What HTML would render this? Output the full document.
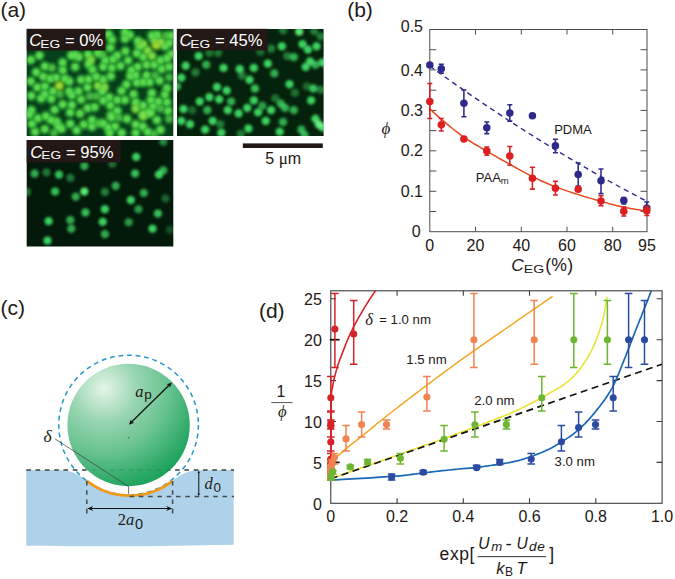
<!DOCTYPE html>
<html lang="en"><head><meta charset="utf-8"><title>Figure</title>
<style>html,body{margin:0;padding:0;background:#fff}body{width:675px;height:579px;overflow:hidden}svg{display:block}</style>
</head><body>
<svg width="675" height="579" viewBox="0 0 675 579">
<defs>
<clipPath id="c1"><rect x="26.7" y="29" width="146.6" height="107"/></clipPath>
<clipPath id="c2"><rect x="177" y="29" width="146.6" height="107"/></clipPath>
<clipPath id="c3"><rect x="26.7" y="140" width="146.6" height="106.6"/></clipPath>
<radialGradient id="sph" cx="0.30" cy="0.20" r="0.95" fx="0.30" fy="0.20"><stop offset="0" stop-color="#e4f5e7"/><stop offset="0.08" stop-color="#cfecd6"/><stop offset="0.3" stop-color="#96d4b0"/><stop offset="0.55" stop-color="#69c391"/><stop offset="0.8" stop-color="#2faa68"/><stop offset="1" stop-color="#059b4f"/></radialGradient>
<marker id="ah" viewBox="0 0 10 10" refX="9.2" refY="5" markerWidth="5.4" markerHeight="5.4" orient="auto-start-reverse" markerUnits="userSpaceOnUse"><path d="M0,1.4 L10,5 L0,8.6 L2.6,5 z" fill="#111"/></marker>
<radialGradient id="gc"><stop offset="0" stop-color="#9cf07a"/><stop offset="0.5" stop-color="#9cf07a" stop-opacity="0.7"/><stop offset="1" stop-color="#9cf07a" stop-opacity="0"/></radialGradient>
<radialGradient id="g0"><stop offset="0" stop-color="#44cc40"/><stop offset="0.3" stop-color="#44cc40" stop-opacity="0.95"/><stop offset="0.52" stop-color="#44cc40" stop-opacity="0.62"/><stop offset="0.76" stop-color="#44cc40" stop-opacity="0.2"/><stop offset="1" stop-color="#44cc40" stop-opacity="0"/></radialGradient><radialGradient id="gm"><stop offset="0" stop-color="#66d038"/><stop offset="0.3" stop-color="#66d038" stop-opacity="0.95"/><stop offset="0.52" stop-color="#66d038" stop-opacity="0.62"/><stop offset="0.76" stop-color="#66d038" stop-opacity="0.2"/><stop offset="1" stop-color="#66d038" stop-opacity="0"/></radialGradient><radialGradient id="gy"><stop offset="0" stop-color="#98cc22"/><stop offset="0.3" stop-color="#98cc22" stop-opacity="0.95"/><stop offset="0.52" stop-color="#98cc22" stop-opacity="0.62"/><stop offset="0.76" stop-color="#98cc22" stop-opacity="0.2"/><stop offset="1" stop-color="#98cc22" stop-opacity="0"/></radialGradient><radialGradient id="g1"><stop offset="0" stop-color="#38cc58"/><stop offset="0.3" stop-color="#38cc58" stop-opacity="0.95"/><stop offset="0.52" stop-color="#38cc58" stop-opacity="0.62"/><stop offset="0.76" stop-color="#38cc58" stop-opacity="0.2"/><stop offset="1" stop-color="#38cc58" stop-opacity="0"/></radialGradient><radialGradient id="g2"><stop offset="0" stop-color="#58e468"/><stop offset="0.3" stop-color="#58e468" stop-opacity="0.95"/><stop offset="0.52" stop-color="#58e468" stop-opacity="0.62"/><stop offset="0.76" stop-color="#58e468" stop-opacity="0.2"/><stop offset="1" stop-color="#58e468" stop-opacity="0"/></radialGradient>
</defs>
<rect width="675" height="579" fill="#fff"/>
<g clip-path="url(#c1)"><g style="isolation:isolate"><rect x="26" y="28" width="148" height="109" fill="#06401a"/>
<circle cx="102.7" cy="54.4" r="7.5" fill="url(#g0)" fill-opacity="0.70"/>
<circle cx="165.9" cy="35.5" r="7.5" fill="url(#g0)" fill-opacity="0.70"/>
<circle cx="110.8" cy="114.6" r="7.5" fill="url(#g0)" fill-opacity="0.70"/>
<circle cx="160.5" cy="108.7" r="7.5" fill="url(#g0)" fill-opacity="0.70"/>
<circle cx="169.2" cy="77.3" r="7.5" fill="url(#g0)" fill-opacity="0.70"/>
<circle cx="155.1" cy="75.2" r="7.5" fill="url(#g0)" fill-opacity="0.70"/>
<circle cx="60.0" cy="94.1" r="7.5" fill="url(#g0)" fill-opacity="0.70"/>
<circle cx="98.4" cy="123.3" r="7.5" fill="url(#g0)" fill-opacity="0.70"/>
<circle cx="54.0" cy="133.0" r="7.5" fill="url(#g0)" fill-opacity="0.70"/>
<circle cx="96.2" cy="96.2" r="7.5" fill="url(#g0)" fill-opacity="0.70"/>
<circle cx="89.7" cy="96.2" r="7.5" fill="url(#g0)" fill-opacity="0.70"/>
<circle cx="118.9" cy="117.9" r="7.5" fill="url(#g0)" fill-opacity="0.70"/>
<circle cx="169.2" cy="118.9" r="7.5" fill="url(#g0)" fill-opacity="0.70"/>
<circle cx="154.1" cy="134.1" r="7.5" fill="url(#g0)" fill-opacity="0.70"/>
<circle cx="51.9" cy="67.9" r="7.5" fill="url(#g0)" fill-opacity="0.80"/>
<circle cx="30.8" cy="59.8" r="7.5" fill="url(#g0)" fill-opacity="1.00"/>
<circle cx="39.4" cy="55.5" r="7.5" fill="url(#g0)" fill-opacity="1.00"/>
<circle cx="44.8" cy="66.3" r="7.5" fill="url(#g0)" fill-opacity="1.00"/>
<circle cx="36.2" cy="72.2" r="7.5" fill="url(#g0)" fill-opacity="1.00"/>
<circle cx="43.2" cy="76.6" r="7.5" fill="url(#g0)" fill-opacity="1.00"/>
<circle cx="30.8" cy="81.4" r="7.5" fill="url(#g0)" fill-opacity="1.00"/>
<circle cx="37.3" cy="87.4" r="7.5" fill="url(#g0)" fill-opacity="1.00"/>
<circle cx="44.8" cy="86.3" r="7.5" fill="url(#g0)" fill-opacity="1.00"/>
<circle cx="50.2" cy="78.7" r="7.5" fill="url(#g0)" fill-opacity="1.00"/>
<circle cx="56.2" cy="77.6" r="7.5" fill="url(#g0)" fill-opacity="1.00"/>
<circle cx="62.7" cy="62.5" r="7.5" fill="url(#g0)" fill-opacity="1.00"/>
<circle cx="62.7" cy="70.1" r="7.5" fill="url(#g0)" fill-opacity="1.00"/>
<circle cx="75.1" cy="66.8" r="7.5" fill="url(#g0)" fill-opacity="1.00"/>
<circle cx="75.1" cy="54.9" r="7.5" fill="url(#g0)" fill-opacity="1.00"/>
<circle cx="78.9" cy="57.1" r="7.5" fill="url(#g0)" fill-opacity="1.00"/>
<circle cx="88.1" cy="54.4" r="7.5" fill="url(#g0)" fill-opacity="1.00"/>
<circle cx="88.6" cy="64.1" r="7.5" fill="url(#g0)" fill-opacity="1.00"/>
<circle cx="92.4" cy="69.5" r="7.5" fill="url(#g0)" fill-opacity="1.00"/>
<circle cx="96.2" cy="76.6" r="7.5" fill="url(#g0)" fill-opacity="1.00"/>
<circle cx="81.1" cy="79.8" r="7.5" fill="url(#g0)" fill-opacity="1.00"/>
<circle cx="87.5" cy="87.4" r="7.5" fill="url(#g0)" fill-opacity="1.00"/>
<circle cx="88.6" cy="79.3" r="7.5" fill="url(#g0)" fill-opacity="1.00"/>
<circle cx="64.8" cy="78.7" r="7.5" fill="url(#g0)" fill-opacity="1.00"/>
<circle cx="69.2" cy="81.4" r="7.5" fill="url(#g0)" fill-opacity="1.00"/>
<circle cx="71.3" cy="55.5" r="7.5" fill="url(#g0)" fill-opacity="1.00"/>
<circle cx="97.8" cy="53.3" r="7.5" fill="url(#g0)" fill-opacity="1.00"/>
<circle cx="69.2" cy="91.2" r="7.5" fill="url(#g0)" fill-opacity="1.00"/>
<circle cx="78.4" cy="91.2" r="7.5" fill="url(#g0)" fill-opacity="1.00"/>
<circle cx="52.9" cy="91.2" r="7.5" fill="url(#g0)" fill-opacity="1.00"/>
<circle cx="108.6" cy="34.4" r="7.5" fill="url(#g0)" fill-opacity="1.00"/>
<circle cx="111.9" cy="39.8" r="7.5" fill="url(#g0)" fill-opacity="1.00"/>
<circle cx="110.3" cy="47.9" r="7.5" fill="url(#g0)" fill-opacity="1.00"/>
<circle cx="124.9" cy="32.2" r="7.5" fill="url(#g0)" fill-opacity="1.00"/>
<circle cx="129.7" cy="34.9" r="7.5" fill="url(#g0)" fill-opacity="1.00"/>
<circle cx="124.9" cy="38.7" r="7.5" fill="url(#g0)" fill-opacity="1.00"/>
<circle cx="125.4" cy="51.2" r="7.5" fill="url(#g0)" fill-opacity="1.00"/>
<circle cx="117.3" cy="55.5" r="7.5" fill="url(#g0)" fill-opacity="1.00"/>
<circle cx="113.0" cy="59.3" r="7.5" fill="url(#g0)" fill-opacity="1.00"/>
<circle cx="105.4" cy="60.4" r="7.5" fill="url(#g0)" fill-opacity="1.00"/>
<circle cx="137.8" cy="40.9" r="7.5" fill="url(#g0)" fill-opacity="1.00"/>
<circle cx="139.5" cy="46.3" r="7.5" fill="url(#g0)" fill-opacity="1.00"/>
<circle cx="136.8" cy="53.3" r="7.5" fill="url(#g0)" fill-opacity="1.00"/>
<circle cx="143.2" cy="57.1" r="7.5" fill="url(#g0)" fill-opacity="1.00"/>
<circle cx="154.1" cy="39.8" r="7.5" fill="url(#g0)" fill-opacity="1.00"/>
<circle cx="157.3" cy="34.9" r="7.5" fill="url(#g0)" fill-opacity="1.00"/>
<circle cx="151.9" cy="35.5" r="7.5" fill="url(#g0)" fill-opacity="1.00"/>
<circle cx="164.9" cy="46.3" r="7.5" fill="url(#g0)" fill-opacity="1.00"/>
<circle cx="169.2" cy="43.1" r="7.5" fill="url(#g0)" fill-opacity="1.00"/>
<circle cx="171.4" cy="35.5" r="7.5" fill="url(#g0)" fill-opacity="1.00"/>
<circle cx="160.5" cy="60.4" r="7.5" fill="url(#g0)" fill-opacity="1.00"/>
<circle cx="167.0" cy="58.2" r="7.5" fill="url(#g0)" fill-opacity="1.00"/>
<circle cx="171.4" cy="53.9" r="7.5" fill="url(#g0)" fill-opacity="1.00"/>
<circle cx="128.1" cy="60.4" r="7.5" fill="url(#g0)" fill-opacity="1.00"/>
<circle cx="120.5" cy="65.8" r="7.5" fill="url(#g0)" fill-opacity="1.00"/>
<circle cx="111.9" cy="67.9" r="7.5" fill="url(#g0)" fill-opacity="1.00"/>
<circle cx="137.8" cy="66.8" r="7.5" fill="url(#g0)" fill-opacity="1.00"/>
<circle cx="146.5" cy="64.7" r="7.5" fill="url(#g0)" fill-opacity="1.00"/>
<circle cx="154.1" cy="64.7" r="7.5" fill="url(#g0)" fill-opacity="1.00"/>
<circle cx="169.2" cy="66.8" r="7.5" fill="url(#g0)" fill-opacity="1.00"/>
<circle cx="103.2" cy="66.8" r="7.5" fill="url(#g0)" fill-opacity="1.00"/>
<circle cx="131.4" cy="70.1" r="7.5" fill="url(#g0)" fill-opacity="1.00"/>
<circle cx="161.6" cy="69.0" r="7.5" fill="url(#g0)" fill-opacity="1.00"/>
<circle cx="103.2" cy="79.5" r="7.5" fill="url(#g0)" fill-opacity="1.00"/>
<circle cx="110.8" cy="76.2" r="7.5" fill="url(#g0)" fill-opacity="1.00"/>
<circle cx="102.2" cy="91.4" r="7.5" fill="url(#g0)" fill-opacity="1.00"/>
<circle cx="109.2" cy="97.3" r="7.5" fill="url(#g0)" fill-opacity="1.00"/>
<circle cx="103.2" cy="100.6" r="7.5" fill="url(#g0)" fill-opacity="1.00"/>
<circle cx="110.3" cy="105.4" r="7.5" fill="url(#g0)" fill-opacity="1.00"/>
<circle cx="117.3" cy="100.0" r="7.5" fill="url(#g0)" fill-opacity="1.00"/>
<circle cx="124.9" cy="100.0" r="7.5" fill="url(#g0)" fill-opacity="1.00"/>
<circle cx="121.6" cy="90.8" r="7.5" fill="url(#g0)" fill-opacity="1.00"/>
<circle cx="126.5" cy="84.4" r="7.5" fill="url(#g0)" fill-opacity="1.00"/>
<circle cx="133.5" cy="94.1" r="7.5" fill="url(#g0)" fill-opacity="1.00"/>
<circle cx="117.3" cy="110.8" r="7.5" fill="url(#g0)" fill-opacity="1.00"/>
<circle cx="136.8" cy="82.7" r="7.5" fill="url(#g0)" fill-opacity="1.00"/>
<circle cx="143.2" cy="82.2" r="7.5" fill="url(#g0)" fill-opacity="1.00"/>
<circle cx="149.7" cy="82.2" r="7.5" fill="url(#g0)" fill-opacity="1.00"/>
<circle cx="130.3" cy="76.2" r="7.5" fill="url(#g0)" fill-opacity="1.00"/>
<circle cx="135.7" cy="75.2" r="7.5" fill="url(#g0)" fill-opacity="1.00"/>
<circle cx="159.5" cy="80.6" r="7.5" fill="url(#g0)" fill-opacity="1.00"/>
<circle cx="167.0" cy="88.1" r="7.5" fill="url(#g0)" fill-opacity="1.00"/>
<circle cx="164.9" cy="94.6" r="7.5" fill="url(#g0)" fill-opacity="1.00"/>
<circle cx="151.9" cy="93.0" r="7.5" fill="url(#g0)" fill-opacity="1.00"/>
<circle cx="150.8" cy="100.0" r="7.5" fill="url(#g0)" fill-opacity="1.00"/>
<circle cx="158.4" cy="101.6" r="7.5" fill="url(#g0)" fill-opacity="1.00"/>
<circle cx="167.0" cy="102.2" r="7.5" fill="url(#g0)" fill-opacity="1.00"/>
<circle cx="153.0" cy="106.5" r="7.5" fill="url(#g0)" fill-opacity="1.00"/>
<circle cx="143.2" cy="105.4" r="7.5" fill="url(#g0)" fill-opacity="1.00"/>
<circle cx="135.7" cy="102.2" r="7.5" fill="url(#g0)" fill-opacity="1.00"/>
<circle cx="143.2" cy="114.1" r="7.5" fill="url(#g0)" fill-opacity="1.00"/>
<circle cx="150.8" cy="113.0" r="7.5" fill="url(#g0)" fill-opacity="1.00"/>
<circle cx="168.1" cy="110.8" r="7.5" fill="url(#g0)" fill-opacity="1.00"/>
<circle cx="146.5" cy="75.2" r="7.5" fill="url(#g0)" fill-opacity="1.00"/>
<circle cx="31.3" cy="95.7" r="7.5" fill="url(#g0)" fill-opacity="1.00"/>
<circle cx="41.1" cy="98.4" r="7.5" fill="url(#g0)" fill-opacity="1.00"/>
<circle cx="44.8" cy="94.1" r="7.5" fill="url(#g0)" fill-opacity="1.00"/>
<circle cx="51.3" cy="98.9" r="7.5" fill="url(#g0)" fill-opacity="1.00"/>
<circle cx="71.9" cy="95.2" r="7.5" fill="url(#g0)" fill-opacity="1.00"/>
<circle cx="81.1" cy="99.5" r="7.5" fill="url(#g0)" fill-opacity="1.00"/>
<circle cx="62.7" cy="104.4" r="7.5" fill="url(#g0)" fill-opacity="1.00"/>
<circle cx="71.9" cy="104.9" r="7.5" fill="url(#g0)" fill-opacity="1.00"/>
<circle cx="54.6" cy="109.8" r="7.5" fill="url(#g0)" fill-opacity="1.00"/>
<circle cx="70.2" cy="112.5" r="7.5" fill="url(#g0)" fill-opacity="1.00"/>
<circle cx="80.0" cy="113.5" r="7.5" fill="url(#g0)" fill-opacity="1.00"/>
<circle cx="87.5" cy="108.1" r="7.5" fill="url(#g0)" fill-opacity="1.00"/>
<circle cx="94.6" cy="107.1" r="7.5" fill="url(#g0)" fill-opacity="1.00"/>
<circle cx="31.3" cy="110.3" r="7.5" fill="url(#g0)" fill-opacity="1.00"/>
<circle cx="29.2" cy="114.6" r="7.5" fill="url(#g0)" fill-opacity="1.00"/>
<circle cx="37.8" cy="118.4" r="7.5" fill="url(#g0)" fill-opacity="1.00"/>
<circle cx="45.9" cy="116.2" r="7.5" fill="url(#g0)" fill-opacity="1.00"/>
<circle cx="51.3" cy="120.0" r="7.5" fill="url(#g0)" fill-opacity="1.00"/>
<circle cx="56.7" cy="121.6" r="7.5" fill="url(#g0)" fill-opacity="1.00"/>
<circle cx="31.9" cy="123.8" r="7.5" fill="url(#g0)" fill-opacity="1.00"/>
<circle cx="44.8" cy="129.2" r="7.5" fill="url(#g0)" fill-opacity="1.00"/>
<circle cx="35.1" cy="131.9" r="7.5" fill="url(#g0)" fill-opacity="1.00"/>
<circle cx="58.4" cy="126.5" r="7.5" fill="url(#g0)" fill-opacity="1.00"/>
<circle cx="61.6" cy="128.7" r="7.5" fill="url(#g0)" fill-opacity="1.00"/>
<circle cx="70.2" cy="123.8" r="7.5" fill="url(#g0)" fill-opacity="1.00"/>
<circle cx="76.7" cy="130.3" r="7.5" fill="url(#g0)" fill-opacity="1.00"/>
<circle cx="83.8" cy="124.4" r="7.5" fill="url(#g0)" fill-opacity="1.00"/>
<circle cx="91.9" cy="120.0" r="7.5" fill="url(#g0)" fill-opacity="1.00"/>
<circle cx="91.9" cy="126.5" r="7.5" fill="url(#g0)" fill-opacity="1.00"/>
<circle cx="111.4" cy="117.3" r="7.5" fill="url(#g0)" fill-opacity="1.00"/>
<circle cx="127.0" cy="118.9" r="7.5" fill="url(#g0)" fill-opacity="1.00"/>
<circle cx="148.6" cy="112.5" r="7.5" fill="url(#g0)" fill-opacity="1.00"/>
<circle cx="156.8" cy="120.0" r="7.5" fill="url(#g0)" fill-opacity="1.00"/>
<circle cx="103.2" cy="123.3" r="7.5" fill="url(#g0)" fill-opacity="1.00"/>
<circle cx="108.1" cy="127.6" r="7.5" fill="url(#g0)" fill-opacity="1.00"/>
<circle cx="115.1" cy="126.5" r="7.5" fill="url(#g0)" fill-opacity="1.00"/>
<circle cx="121.6" cy="133.0" r="7.5" fill="url(#g0)" fill-opacity="1.00"/>
<circle cx="109.7" cy="133.0" r="7.5" fill="url(#g0)" fill-opacity="1.00"/>
<circle cx="135.7" cy="124.4" r="7.5" fill="url(#g0)" fill-opacity="1.00"/>
<circle cx="142.7" cy="126.5" r="7.5" fill="url(#g0)" fill-opacity="1.00"/>
<circle cx="135.7" cy="133.0" r="7.5" fill="url(#g0)" fill-opacity="1.00"/>
<circle cx="147.6" cy="131.9" r="7.5" fill="url(#g0)" fill-opacity="1.00"/>
<circle cx="160.5" cy="129.8" r="7.5" fill="url(#g0)" fill-opacity="1.00"/>
<circle cx="90.8" cy="59.8" r="7.5" fill="url(#gm)" fill-opacity="1.00"/>
<circle cx="97.8" cy="85.8" r="7.5" fill="url(#gm)" fill-opacity="1.00"/>
<circle cx="143.2" cy="44.1" r="7.5" fill="url(#gm)" fill-opacity="1.00"/>
<circle cx="147.6" cy="50.6" r="7.5" fill="url(#gm)" fill-opacity="1.00"/>
<circle cx="151.9" cy="56.0" r="7.5" fill="url(#gm)" fill-opacity="1.00"/>
<circle cx="160.5" cy="42.0" r="7.5" fill="url(#gm)" fill-opacity="1.00"/>
<circle cx="104.3" cy="87.1" r="7.5" fill="url(#gm)" fill-opacity="1.00"/>
<circle cx="135.7" cy="108.7" r="7.5" fill="url(#gm)" fill-opacity="1.00"/>
<circle cx="143.2" cy="116.2" r="7.5" fill="url(#gm)" fill-opacity="1.00"/>
<circle cx="156.2" cy="45.2" r="7.5" fill="url(#gy)" fill-opacity="1.00"/>
<circle cx="59.4" cy="85.8" r="7.5" fill="url(#gy)" fill-opacity="1.00"/>
<circle cx="102.7" cy="54.4" r="3.6" fill="url(#gc)" fill-opacity="0.21"/>
<circle cx="165.9" cy="35.5" r="3.6" fill="url(#gc)" fill-opacity="0.21"/>
<circle cx="110.8" cy="114.6" r="3.6" fill="url(#gc)" fill-opacity="0.21"/>
<circle cx="160.5" cy="108.7" r="3.6" fill="url(#gc)" fill-opacity="0.21"/>
<circle cx="169.2" cy="77.3" r="3.6" fill="url(#gc)" fill-opacity="0.21"/>
<circle cx="155.1" cy="75.2" r="3.6" fill="url(#gc)" fill-opacity="0.21"/>
<circle cx="60.0" cy="94.1" r="3.6" fill="url(#gc)" fill-opacity="0.21"/>
<circle cx="98.4" cy="123.3" r="3.6" fill="url(#gc)" fill-opacity="0.21"/>
<circle cx="54.0" cy="133.0" r="3.6" fill="url(#gc)" fill-opacity="0.21"/>
<circle cx="96.2" cy="96.2" r="3.6" fill="url(#gc)" fill-opacity="0.21"/>
<circle cx="89.7" cy="96.2" r="3.6" fill="url(#gc)" fill-opacity="0.21"/>
<circle cx="118.9" cy="117.9" r="3.6" fill="url(#gc)" fill-opacity="0.21"/>
<circle cx="169.2" cy="118.9" r="3.6" fill="url(#gc)" fill-opacity="0.21"/>
<circle cx="154.1" cy="134.1" r="3.6" fill="url(#gc)" fill-opacity="0.21"/>
<circle cx="51.9" cy="67.9" r="3.6" fill="url(#gc)" fill-opacity="0.24"/>
<circle cx="30.8" cy="59.8" r="3.6" fill="url(#gc)" fill-opacity="0.30"/>
<circle cx="39.4" cy="55.5" r="3.6" fill="url(#gc)" fill-opacity="0.30"/>
<circle cx="44.8" cy="66.3" r="3.6" fill="url(#gc)" fill-opacity="0.30"/>
<circle cx="36.2" cy="72.2" r="3.6" fill="url(#gc)" fill-opacity="0.30"/>
<circle cx="43.2" cy="76.6" r="3.6" fill="url(#gc)" fill-opacity="0.30"/>
<circle cx="30.8" cy="81.4" r="3.6" fill="url(#gc)" fill-opacity="0.30"/>
<circle cx="37.3" cy="87.4" r="3.6" fill="url(#gc)" fill-opacity="0.30"/>
<circle cx="44.8" cy="86.3" r="3.6" fill="url(#gc)" fill-opacity="0.30"/>
<circle cx="50.2" cy="78.7" r="3.6" fill="url(#gc)" fill-opacity="0.30"/>
<circle cx="56.2" cy="77.6" r="3.6" fill="url(#gc)" fill-opacity="0.30"/>
<circle cx="62.7" cy="62.5" r="3.6" fill="url(#gc)" fill-opacity="0.30"/>
<circle cx="62.7" cy="70.1" r="3.6" fill="url(#gc)" fill-opacity="0.30"/>
<circle cx="75.1" cy="66.8" r="3.6" fill="url(#gc)" fill-opacity="0.30"/>
<circle cx="75.1" cy="54.9" r="3.6" fill="url(#gc)" fill-opacity="0.30"/>
<circle cx="78.9" cy="57.1" r="3.6" fill="url(#gc)" fill-opacity="0.30"/>
<circle cx="88.1" cy="54.4" r="3.6" fill="url(#gc)" fill-opacity="0.30"/>
<circle cx="88.6" cy="64.1" r="3.6" fill="url(#gc)" fill-opacity="0.30"/>
<circle cx="92.4" cy="69.5" r="3.6" fill="url(#gc)" fill-opacity="0.30"/>
<circle cx="96.2" cy="76.6" r="3.6" fill="url(#gc)" fill-opacity="0.30"/>
<circle cx="81.1" cy="79.8" r="3.6" fill="url(#gc)" fill-opacity="0.30"/>
<circle cx="87.5" cy="87.4" r="3.6" fill="url(#gc)" fill-opacity="0.30"/>
<circle cx="88.6" cy="79.3" r="3.6" fill="url(#gc)" fill-opacity="0.30"/>
<circle cx="64.8" cy="78.7" r="3.6" fill="url(#gc)" fill-opacity="0.30"/>
<circle cx="69.2" cy="81.4" r="3.6" fill="url(#gc)" fill-opacity="0.30"/>
<circle cx="71.3" cy="55.5" r="3.6" fill="url(#gc)" fill-opacity="0.30"/>
<circle cx="97.8" cy="53.3" r="3.6" fill="url(#gc)" fill-opacity="0.30"/>
<circle cx="69.2" cy="91.2" r="3.6" fill="url(#gc)" fill-opacity="0.30"/>
<circle cx="78.4" cy="91.2" r="3.6" fill="url(#gc)" fill-opacity="0.30"/>
<circle cx="52.9" cy="91.2" r="3.6" fill="url(#gc)" fill-opacity="0.30"/>
<circle cx="108.6" cy="34.4" r="3.6" fill="url(#gc)" fill-opacity="0.30"/>
<circle cx="111.9" cy="39.8" r="3.6" fill="url(#gc)" fill-opacity="0.30"/>
<circle cx="110.3" cy="47.9" r="3.6" fill="url(#gc)" fill-opacity="0.30"/>
<circle cx="124.9" cy="32.2" r="3.6" fill="url(#gc)" fill-opacity="0.30"/>
<circle cx="129.7" cy="34.9" r="3.6" fill="url(#gc)" fill-opacity="0.30"/>
<circle cx="124.9" cy="38.7" r="3.6" fill="url(#gc)" fill-opacity="0.30"/>
<circle cx="125.4" cy="51.2" r="3.6" fill="url(#gc)" fill-opacity="0.30"/>
<circle cx="117.3" cy="55.5" r="3.6" fill="url(#gc)" fill-opacity="0.30"/>
<circle cx="113.0" cy="59.3" r="3.6" fill="url(#gc)" fill-opacity="0.30"/>
<circle cx="105.4" cy="60.4" r="3.6" fill="url(#gc)" fill-opacity="0.30"/>
<circle cx="137.8" cy="40.9" r="3.6" fill="url(#gc)" fill-opacity="0.30"/>
<circle cx="139.5" cy="46.3" r="3.6" fill="url(#gc)" fill-opacity="0.30"/>
<circle cx="136.8" cy="53.3" r="3.6" fill="url(#gc)" fill-opacity="0.30"/>
<circle cx="143.2" cy="57.1" r="3.6" fill="url(#gc)" fill-opacity="0.30"/>
<circle cx="154.1" cy="39.8" r="3.6" fill="url(#gc)" fill-opacity="0.30"/>
<circle cx="157.3" cy="34.9" r="3.6" fill="url(#gc)" fill-opacity="0.30"/>
<circle cx="151.9" cy="35.5" r="3.6" fill="url(#gc)" fill-opacity="0.30"/>
<circle cx="164.9" cy="46.3" r="3.6" fill="url(#gc)" fill-opacity="0.30"/>
<circle cx="169.2" cy="43.1" r="3.6" fill="url(#gc)" fill-opacity="0.30"/>
<circle cx="171.4" cy="35.5" r="3.6" fill="url(#gc)" fill-opacity="0.30"/>
<circle cx="160.5" cy="60.4" r="3.6" fill="url(#gc)" fill-opacity="0.30"/>
<circle cx="167.0" cy="58.2" r="3.6" fill="url(#gc)" fill-opacity="0.30"/>
<circle cx="171.4" cy="53.9" r="3.6" fill="url(#gc)" fill-opacity="0.30"/>
<circle cx="128.1" cy="60.4" r="3.6" fill="url(#gc)" fill-opacity="0.30"/>
<circle cx="120.5" cy="65.8" r="3.6" fill="url(#gc)" fill-opacity="0.30"/>
<circle cx="111.9" cy="67.9" r="3.6" fill="url(#gc)" fill-opacity="0.30"/>
<circle cx="137.8" cy="66.8" r="3.6" fill="url(#gc)" fill-opacity="0.30"/>
<circle cx="146.5" cy="64.7" r="3.6" fill="url(#gc)" fill-opacity="0.30"/>
<circle cx="154.1" cy="64.7" r="3.6" fill="url(#gc)" fill-opacity="0.30"/>
<circle cx="169.2" cy="66.8" r="3.6" fill="url(#gc)" fill-opacity="0.30"/>
<circle cx="103.2" cy="66.8" r="3.6" fill="url(#gc)" fill-opacity="0.30"/>
<circle cx="131.4" cy="70.1" r="3.6" fill="url(#gc)" fill-opacity="0.30"/>
<circle cx="161.6" cy="69.0" r="3.6" fill="url(#gc)" fill-opacity="0.30"/>
<circle cx="103.2" cy="79.5" r="3.6" fill="url(#gc)" fill-opacity="0.30"/>
<circle cx="110.8" cy="76.2" r="3.6" fill="url(#gc)" fill-opacity="0.30"/>
<circle cx="102.2" cy="91.4" r="3.6" fill="url(#gc)" fill-opacity="0.30"/>
<circle cx="109.2" cy="97.3" r="3.6" fill="url(#gc)" fill-opacity="0.30"/>
<circle cx="103.2" cy="100.6" r="3.6" fill="url(#gc)" fill-opacity="0.30"/>
<circle cx="110.3" cy="105.4" r="3.6" fill="url(#gc)" fill-opacity="0.30"/>
<circle cx="117.3" cy="100.0" r="3.6" fill="url(#gc)" fill-opacity="0.30"/>
<circle cx="124.9" cy="100.0" r="3.6" fill="url(#gc)" fill-opacity="0.30"/>
<circle cx="121.6" cy="90.8" r="3.6" fill="url(#gc)" fill-opacity="0.30"/>
<circle cx="126.5" cy="84.4" r="3.6" fill="url(#gc)" fill-opacity="0.30"/>
<circle cx="133.5" cy="94.1" r="3.6" fill="url(#gc)" fill-opacity="0.30"/>
<circle cx="117.3" cy="110.8" r="3.6" fill="url(#gc)" fill-opacity="0.30"/>
<circle cx="136.8" cy="82.7" r="3.6" fill="url(#gc)" fill-opacity="0.30"/>
<circle cx="143.2" cy="82.2" r="3.6" fill="url(#gc)" fill-opacity="0.30"/>
<circle cx="149.7" cy="82.2" r="3.6" fill="url(#gc)" fill-opacity="0.30"/>
<circle cx="130.3" cy="76.2" r="3.6" fill="url(#gc)" fill-opacity="0.30"/>
<circle cx="135.7" cy="75.2" r="3.6" fill="url(#gc)" fill-opacity="0.30"/>
<circle cx="159.5" cy="80.6" r="3.6" fill="url(#gc)" fill-opacity="0.30"/>
<circle cx="167.0" cy="88.1" r="3.6" fill="url(#gc)" fill-opacity="0.30"/>
<circle cx="164.9" cy="94.6" r="3.6" fill="url(#gc)" fill-opacity="0.30"/>
<circle cx="151.9" cy="93.0" r="3.6" fill="url(#gc)" fill-opacity="0.30"/>
<circle cx="150.8" cy="100.0" r="3.6" fill="url(#gc)" fill-opacity="0.30"/>
<circle cx="158.4" cy="101.6" r="3.6" fill="url(#gc)" fill-opacity="0.30"/>
<circle cx="167.0" cy="102.2" r="3.6" fill="url(#gc)" fill-opacity="0.30"/>
<circle cx="153.0" cy="106.5" r="3.6" fill="url(#gc)" fill-opacity="0.30"/>
<circle cx="143.2" cy="105.4" r="3.6" fill="url(#gc)" fill-opacity="0.30"/>
<circle cx="135.7" cy="102.2" r="3.6" fill="url(#gc)" fill-opacity="0.30"/>
<circle cx="143.2" cy="114.1" r="3.6" fill="url(#gc)" fill-opacity="0.30"/>
<circle cx="150.8" cy="113.0" r="3.6" fill="url(#gc)" fill-opacity="0.30"/>
<circle cx="168.1" cy="110.8" r="3.6" fill="url(#gc)" fill-opacity="0.30"/>
<circle cx="146.5" cy="75.2" r="3.6" fill="url(#gc)" fill-opacity="0.30"/>
<circle cx="31.3" cy="95.7" r="3.6" fill="url(#gc)" fill-opacity="0.30"/>
<circle cx="41.1" cy="98.4" r="3.6" fill="url(#gc)" fill-opacity="0.30"/>
<circle cx="44.8" cy="94.1" r="3.6" fill="url(#gc)" fill-opacity="0.30"/>
<circle cx="51.3" cy="98.9" r="3.6" fill="url(#gc)" fill-opacity="0.30"/>
<circle cx="71.9" cy="95.2" r="3.6" fill="url(#gc)" fill-opacity="0.30"/>
<circle cx="81.1" cy="99.5" r="3.6" fill="url(#gc)" fill-opacity="0.30"/>
<circle cx="62.7" cy="104.4" r="3.6" fill="url(#gc)" fill-opacity="0.30"/>
<circle cx="71.9" cy="104.9" r="3.6" fill="url(#gc)" fill-opacity="0.30"/>
<circle cx="54.6" cy="109.8" r="3.6" fill="url(#gc)" fill-opacity="0.30"/>
<circle cx="70.2" cy="112.5" r="3.6" fill="url(#gc)" fill-opacity="0.30"/>
<circle cx="80.0" cy="113.5" r="3.6" fill="url(#gc)" fill-opacity="0.30"/>
<circle cx="87.5" cy="108.1" r="3.6" fill="url(#gc)" fill-opacity="0.30"/>
<circle cx="94.6" cy="107.1" r="3.6" fill="url(#gc)" fill-opacity="0.30"/>
<circle cx="31.3" cy="110.3" r="3.6" fill="url(#gc)" fill-opacity="0.30"/>
<circle cx="29.2" cy="114.6" r="3.6" fill="url(#gc)" fill-opacity="0.30"/>
<circle cx="37.8" cy="118.4" r="3.6" fill="url(#gc)" fill-opacity="0.30"/>
<circle cx="45.9" cy="116.2" r="3.6" fill="url(#gc)" fill-opacity="0.30"/>
<circle cx="51.3" cy="120.0" r="3.6" fill="url(#gc)" fill-opacity="0.30"/>
<circle cx="56.7" cy="121.6" r="3.6" fill="url(#gc)" fill-opacity="0.30"/>
<circle cx="31.9" cy="123.8" r="3.6" fill="url(#gc)" fill-opacity="0.30"/>
<circle cx="44.8" cy="129.2" r="3.6" fill="url(#gc)" fill-opacity="0.30"/>
<circle cx="35.1" cy="131.9" r="3.6" fill="url(#gc)" fill-opacity="0.30"/>
<circle cx="58.4" cy="126.5" r="3.6" fill="url(#gc)" fill-opacity="0.30"/>
<circle cx="61.6" cy="128.7" r="3.6" fill="url(#gc)" fill-opacity="0.30"/>
<circle cx="70.2" cy="123.8" r="3.6" fill="url(#gc)" fill-opacity="0.30"/>
<circle cx="76.7" cy="130.3" r="3.6" fill="url(#gc)" fill-opacity="0.30"/>
<circle cx="83.8" cy="124.4" r="3.6" fill="url(#gc)" fill-opacity="0.30"/>
<circle cx="91.9" cy="120.0" r="3.6" fill="url(#gc)" fill-opacity="0.30"/>
<circle cx="91.9" cy="126.5" r="3.6" fill="url(#gc)" fill-opacity="0.30"/>
<circle cx="111.4" cy="117.3" r="3.6" fill="url(#gc)" fill-opacity="0.30"/>
<circle cx="127.0" cy="118.9" r="3.6" fill="url(#gc)" fill-opacity="0.30"/>
<circle cx="148.6" cy="112.5" r="3.6" fill="url(#gc)" fill-opacity="0.30"/>
<circle cx="156.8" cy="120.0" r="3.6" fill="url(#gc)" fill-opacity="0.30"/>
<circle cx="103.2" cy="123.3" r="3.6" fill="url(#gc)" fill-opacity="0.30"/>
<circle cx="108.1" cy="127.6" r="3.6" fill="url(#gc)" fill-opacity="0.30"/>
<circle cx="115.1" cy="126.5" r="3.6" fill="url(#gc)" fill-opacity="0.30"/>
<circle cx="121.6" cy="133.0" r="3.6" fill="url(#gc)" fill-opacity="0.30"/>
<circle cx="109.7" cy="133.0" r="3.6" fill="url(#gc)" fill-opacity="0.30"/>
<circle cx="135.7" cy="124.4" r="3.6" fill="url(#gc)" fill-opacity="0.30"/>
<circle cx="142.7" cy="126.5" r="3.6" fill="url(#gc)" fill-opacity="0.30"/>
<circle cx="135.7" cy="133.0" r="3.6" fill="url(#gc)" fill-opacity="0.30"/>
<circle cx="147.6" cy="131.9" r="3.6" fill="url(#gc)" fill-opacity="0.30"/>
<circle cx="160.5" cy="129.8" r="3.6" fill="url(#gc)" fill-opacity="0.30"/>
<circle cx="90.8" cy="59.8" r="3.6" fill="url(#gc)" fill-opacity="0.30"/>
<circle cx="97.8" cy="85.8" r="3.6" fill="url(#gc)" fill-opacity="0.30"/>
<circle cx="143.2" cy="44.1" r="3.6" fill="url(#gc)" fill-opacity="0.30"/>
<circle cx="147.6" cy="50.6" r="3.6" fill="url(#gc)" fill-opacity="0.30"/>
<circle cx="151.9" cy="56.0" r="3.6" fill="url(#gc)" fill-opacity="0.30"/>
<circle cx="160.5" cy="42.0" r="3.6" fill="url(#gc)" fill-opacity="0.30"/>
<circle cx="104.3" cy="87.1" r="3.6" fill="url(#gc)" fill-opacity="0.30"/>
<circle cx="135.7" cy="108.7" r="3.6" fill="url(#gc)" fill-opacity="0.30"/>
<circle cx="143.2" cy="116.2" r="3.6" fill="url(#gc)" fill-opacity="0.30"/>
<circle cx="156.2" cy="45.2" r="3.6" fill="url(#gc)" fill-opacity="0.30"/>
<circle cx="59.4" cy="85.8" r="3.6" fill="url(#gc)" fill-opacity="0.30"/>
</g></g>
<g clip-path="url(#c2)"><g style="isolation:isolate"><rect x="176" y="28" width="149" height="109" fill="#05230c"/>
<circle cx="299.2" cy="31.6" r="6.6" fill="url(#g2)" fill-opacity="1.00" style="mix-blend-mode:screen"/>
<circle cx="283.0" cy="30.1" r="6.6" fill="url(#g1)" fill-opacity="0.50" style="mix-blend-mode:screen"/>
<circle cx="314.3" cy="31.2" r="6.6" fill="url(#g1)" fill-opacity="0.50" style="mix-blend-mode:screen"/>
<circle cx="320.8" cy="36.6" r="6.6" fill="url(#g1)" fill-opacity="0.50" style="mix-blend-mode:screen"/>
<circle cx="281.9" cy="46.3" r="6.6" fill="url(#g1)" fill-opacity="1.00" style="mix-blend-mode:screen"/>
<circle cx="271.1" cy="48.5" r="6.6" fill="url(#g1)" fill-opacity="0.50" style="mix-blend-mode:screen"/>
<circle cx="302.5" cy="44.1" r="6.6" fill="url(#g1)" fill-opacity="1.00" style="mix-blend-mode:screen"/>
<circle cx="307.9" cy="49.5" r="6.6" fill="url(#g1)" fill-opacity="1.00" style="mix-blend-mode:screen"/>
<circle cx="316.5" cy="46.3" r="6.6" fill="url(#g1)" fill-opacity="1.00" style="mix-blend-mode:screen"/>
<circle cx="287.3" cy="56.0" r="6.6" fill="url(#g1)" fill-opacity="0.50" style="mix-blend-mode:screen"/>
<circle cx="293.8" cy="57.1" r="6.6" fill="url(#g1)" fill-opacity="0.80" style="mix-blend-mode:screen"/>
<circle cx="198.6" cy="56.0" r="6.6" fill="url(#g1)" fill-opacity="1.00" style="mix-blend-mode:screen"/>
<circle cx="209.4" cy="52.8" r="6.6" fill="url(#g1)" fill-opacity="0.45" style="mix-blend-mode:screen"/>
<circle cx="218.1" cy="52.8" r="6.6" fill="url(#g1)" fill-opacity="0.45" style="mix-blend-mode:screen"/>
<circle cx="260.3" cy="51.7" r="6.6" fill="url(#g1)" fill-opacity="0.40" style="mix-blend-mode:screen"/>
<circle cx="185.7" cy="65.8" r="6.6" fill="url(#g1)" fill-opacity="1.00" style="mix-blend-mode:screen"/>
<circle cx="206.2" cy="64.7" r="6.6" fill="url(#g1)" fill-opacity="0.80" style="mix-blend-mode:screen"/>
<circle cx="223.5" cy="67.9" r="6.6" fill="url(#g1)" fill-opacity="1.00" style="mix-blend-mode:screen"/>
<circle cx="239.7" cy="69.0" r="6.6" fill="url(#g1)" fill-opacity="1.00" style="mix-blend-mode:screen"/>
<circle cx="253.8" cy="67.9" r="6.6" fill="url(#g1)" fill-opacity="1.00" style="mix-blend-mode:screen"/>
<circle cx="267.8" cy="63.6" r="6.6" fill="url(#g1)" fill-opacity="1.00" style="mix-blend-mode:screen"/>
<circle cx="274.3" cy="73.3" r="6.6" fill="url(#g1)" fill-opacity="0.80" style="mix-blend-mode:screen"/>
<circle cx="305.7" cy="66.9" r="6.6" fill="url(#g1)" fill-opacity="1.00" style="mix-blend-mode:screen"/>
<circle cx="310.0" cy="61.4" r="6.6" fill="url(#g1)" fill-opacity="1.00" style="mix-blend-mode:screen"/>
<circle cx="315.4" cy="64.7" r="6.6" fill="url(#g1)" fill-opacity="0.80" style="mix-blend-mode:screen"/>
<circle cx="322.4" cy="62.5" r="6.6" fill="url(#g1)" fill-opacity="1.00" style="mix-blend-mode:screen"/>
<circle cx="181.3" cy="77.7" r="6.6" fill="url(#g1)" fill-opacity="1.00" style="mix-blend-mode:screen"/>
<circle cx="195.4" cy="72.3" r="6.6" fill="url(#g1)" fill-opacity="0.50" style="mix-blend-mode:screen"/>
<circle cx="241.9" cy="75.5" r="6.6" fill="url(#g1)" fill-opacity="0.50" style="mix-blend-mode:screen"/>
<circle cx="249.5" cy="79.8" r="6.6" fill="url(#g1)" fill-opacity="1.00" style="mix-blend-mode:screen"/>
<circle cx="289.5" cy="84.2" r="6.6" fill="url(#g1)" fill-opacity="1.00" style="mix-blend-mode:screen"/>
<circle cx="313.3" cy="88.5" r="6.6" fill="url(#g1)" fill-opacity="0.90" style="mix-blend-mode:screen"/>
<circle cx="306.8" cy="86.3" r="6.6" fill="url(#g1)" fill-opacity="0.40" style="mix-blend-mode:screen"/>
<circle cx="320.8" cy="89.6" r="6.6" fill="url(#g1)" fill-opacity="0.50" style="mix-blend-mode:screen"/>
<circle cx="177.0" cy="86.3" r="6.6" fill="url(#g1)" fill-opacity="0.80" style="mix-blend-mode:screen"/>
<circle cx="217.0" cy="87.0" r="6.6" fill="url(#g1)" fill-opacity="1.00" style="mix-blend-mode:screen"/>
<circle cx="226.7" cy="90.6" r="6.6" fill="url(#g1)" fill-opacity="1.00" style="mix-blend-mode:screen"/>
<circle cx="254.9" cy="88.5" r="6.6" fill="url(#g1)" fill-opacity="0.90" style="mix-blend-mode:screen"/>
<circle cx="294.9" cy="92.8" r="6.6" fill="url(#g1)" fill-opacity="0.45" style="mix-blend-mode:screen"/>
<circle cx="199.7" cy="101.5" r="6.6" fill="url(#g1)" fill-opacity="1.00" style="mix-blend-mode:screen"/>
<circle cx="209.4" cy="97.1" r="6.6" fill="url(#g1)" fill-opacity="1.00" style="mix-blend-mode:screen"/>
<circle cx="219.2" cy="99.3" r="6.6" fill="url(#g1)" fill-opacity="1.00" style="mix-blend-mode:screen"/>
<circle cx="231.1" cy="101.5" r="6.6" fill="url(#g1)" fill-opacity="0.80" style="mix-blend-mode:screen"/>
<circle cx="253.8" cy="100.4" r="6.6" fill="url(#g1)" fill-opacity="1.00" style="mix-blend-mode:screen"/>
<circle cx="275.4" cy="98.2" r="6.6" fill="url(#g1)" fill-opacity="0.45" style="mix-blend-mode:screen"/>
<circle cx="311.1" cy="100.4" r="6.6" fill="url(#g1)" fill-opacity="1.00" style="mix-blend-mode:screen"/>
<circle cx="183.5" cy="109.0" r="6.6" fill="url(#g1)" fill-opacity="1.00" style="mix-blend-mode:screen"/>
<circle cx="207.3" cy="110.1" r="6.6" fill="url(#g1)" fill-opacity="0.80" style="mix-blend-mode:screen"/>
<circle cx="227.8" cy="110.1" r="6.6" fill="url(#g1)" fill-opacity="1.00" style="mix-blend-mode:screen"/>
<circle cx="238.6" cy="113.4" r="6.6" fill="url(#g1)" fill-opacity="1.00" style="mix-blend-mode:screen"/>
<circle cx="247.3" cy="107.9" r="6.6" fill="url(#g1)" fill-opacity="1.00" style="mix-blend-mode:screen"/>
<circle cx="258.1" cy="112.3" r="6.6" fill="url(#g1)" fill-opacity="1.00" style="mix-blend-mode:screen"/>
<circle cx="262.4" cy="105.8" r="6.6" fill="url(#g1)" fill-opacity="0.70" style="mix-blend-mode:screen"/>
<circle cx="271.1" cy="110.1" r="6.6" fill="url(#g1)" fill-opacity="1.00" style="mix-blend-mode:screen"/>
<circle cx="280.8" cy="103.6" r="6.6" fill="url(#g1)" fill-opacity="0.80" style="mix-blend-mode:screen"/>
<circle cx="285.1" cy="107.9" r="6.6" fill="url(#g1)" fill-opacity="0.80" style="mix-blend-mode:screen"/>
<circle cx="293.8" cy="110.1" r="6.6" fill="url(#g1)" fill-opacity="0.80" style="mix-blend-mode:screen"/>
<circle cx="192.1" cy="110.1" r="6.6" fill="url(#g1)" fill-opacity="0.40" style="mix-blend-mode:screen"/>
<circle cx="181.3" cy="120.9" r="6.6" fill="url(#g1)" fill-opacity="1.00" style="mix-blend-mode:screen"/>
<circle cx="190.0" cy="124.2" r="6.6" fill="url(#g1)" fill-opacity="1.00" style="mix-blend-mode:screen"/>
<circle cx="212.7" cy="120.9" r="6.6" fill="url(#g1)" fill-opacity="1.00" style="mix-blend-mode:screen"/>
<circle cx="220.3" cy="124.2" r="6.6" fill="url(#g1)" fill-opacity="0.50" style="mix-blend-mode:screen"/>
<circle cx="265.7" cy="120.9" r="6.6" fill="url(#g1)" fill-opacity="1.00" style="mix-blend-mode:screen"/>
<circle cx="283.0" cy="122.0" r="6.6" fill="url(#g1)" fill-opacity="0.80" style="mix-blend-mode:screen"/>
<circle cx="315.4" cy="118.8" r="6.6" fill="url(#g1)" fill-opacity="1.00" style="mix-blend-mode:screen"/>
<circle cx="318.7" cy="124.2" r="6.6" fill="url(#g2)" fill-opacity="1.00" style="mix-blend-mode:screen"/>
<circle cx="322.4" cy="127.4" r="6.6" fill="url(#g1)" fill-opacity="1.00" style="mix-blend-mode:screen"/>
<circle cx="205.1" cy="129.6" r="6.6" fill="url(#g1)" fill-opacity="1.00" style="mix-blend-mode:screen"/>
<circle cx="221.3" cy="132.8" r="6.6" fill="url(#g1)" fill-opacity="1.00" style="mix-blend-mode:screen"/>
<circle cx="248.4" cy="128.5" r="6.6" fill="url(#g1)" fill-opacity="1.00" style="mix-blend-mode:screen"/>
<circle cx="240.8" cy="133.9" r="6.6" fill="url(#g1)" fill-opacity="0.50" style="mix-blend-mode:screen"/>
<circle cx="279.7" cy="131.7" r="6.6" fill="url(#g1)" fill-opacity="1.00" style="mix-blend-mode:screen"/>
<circle cx="301.4" cy="129.6" r="6.6" fill="url(#g1)" fill-opacity="0.80" style="mix-blend-mode:screen"/>
<circle cx="304.6" cy="135.0" r="6.6" fill="url(#g1)" fill-opacity="0.80" style="mix-blend-mode:screen"/>
</g></g>
<g clip-path="url(#c3)"><g style="isolation:isolate"><rect x="26" y="139" width="148" height="109" fill="#03190a"/>
<circle cx="163.3" cy="141.7" r="6.6" fill="url(#g1)" fill-opacity="0.60" style="mix-blend-mode:screen"/>
<circle cx="136.2" cy="156.9" r="6.6" fill="url(#g1)" fill-opacity="1.00" style="mix-blend-mode:screen"/>
<circle cx="84.3" cy="166.0" r="6.6" fill="url(#g1)" fill-opacity="0.80" style="mix-blend-mode:screen"/>
<circle cx="112.4" cy="163.8" r="6.6" fill="url(#g1)" fill-opacity="0.45" style="mix-blend-mode:screen"/>
<circle cx="34.6" cy="173.5" r="6.6" fill="url(#g1)" fill-opacity="0.80" style="mix-blend-mode:screen"/>
<circle cx="46.5" cy="172.4" r="6.6" fill="url(#g1)" fill-opacity="0.50" style="mix-blend-mode:screen"/>
<circle cx="59.0" cy="174.6" r="6.6" fill="url(#g1)" fill-opacity="0.90" style="mix-blend-mode:screen"/>
<circle cx="70.3" cy="177.9" r="6.6" fill="url(#g1)" fill-opacity="0.50" style="mix-blend-mode:screen"/>
<circle cx="135.1" cy="173.5" r="6.6" fill="url(#g1)" fill-opacity="0.90" style="mix-blend-mode:screen"/>
<circle cx="158.9" cy="174.6" r="6.6" fill="url(#g1)" fill-opacity="1.00" style="mix-blend-mode:screen"/>
<circle cx="163.3" cy="170.3" r="6.6" fill="url(#g1)" fill-opacity="0.80" style="mix-blend-mode:screen"/>
<circle cx="55.1" cy="191.5" r="6.6" fill="url(#g1)" fill-opacity="0.90" style="mix-blend-mode:screen"/>
<circle cx="84.3" cy="191.5" r="6.6" fill="url(#g2)" fill-opacity="1.00" style="mix-blend-mode:screen"/>
<circle cx="75.7" cy="196.7" r="6.6" fill="url(#g1)" fill-opacity="0.80" style="mix-blend-mode:screen"/>
<circle cx="104.9" cy="191.9" r="6.6" fill="url(#g1)" fill-opacity="0.55" style="mix-blend-mode:screen"/>
<circle cx="115.7" cy="185.9" r="6.6" fill="url(#g1)" fill-opacity="0.80" style="mix-blend-mode:screen"/>
<circle cx="143.8" cy="193.0" r="6.6" fill="url(#g1)" fill-opacity="0.80" style="mix-blend-mode:screen"/>
<circle cx="165.4" cy="198.4" r="6.6" fill="url(#g1)" fill-opacity="0.40" style="mix-blend-mode:screen"/>
<circle cx="27.0" cy="191.9" r="6.6" fill="url(#g1)" fill-opacity="0.50" style="mix-blend-mode:screen"/>
<circle cx="130.8" cy="200.1" r="6.6" fill="url(#g1)" fill-opacity="1.00" style="mix-blend-mode:screen"/>
<circle cx="138.4" cy="209.2" r="6.6" fill="url(#g1)" fill-opacity="0.70" style="mix-blend-mode:screen"/>
<circle cx="104.9" cy="209.2" r="6.6" fill="url(#g1)" fill-opacity="1.00" style="mix-blend-mode:screen"/>
<circle cx="85.4" cy="212.5" r="6.6" fill="url(#g1)" fill-opacity="0.90" style="mix-blend-mode:screen"/>
<circle cx="157.9" cy="213.5" r="6.6" fill="url(#g1)" fill-opacity="0.90" style="mix-blend-mode:screen"/>
<circle cx="48.6" cy="221.1" r="6.6" fill="url(#g1)" fill-opacity="1.00" style="mix-blend-mode:screen"/>
<circle cx="70.3" cy="220.0" r="6.6" fill="url(#g1)" fill-opacity="0.80" style="mix-blend-mode:screen"/>
<circle cx="102.7" cy="221.8" r="6.6" fill="url(#g1)" fill-opacity="1.00" style="mix-blend-mode:screen"/>
<circle cx="128.7" cy="222.2" r="6.6" fill="url(#g1)" fill-opacity="0.70" style="mix-blend-mode:screen"/>
<circle cx="152.5" cy="228.7" r="6.6" fill="url(#g1)" fill-opacity="1.00" style="mix-blend-mode:screen"/>
<circle cx="71.3" cy="228.7" r="6.6" fill="url(#g1)" fill-opacity="0.80" style="mix-blend-mode:screen"/>
<circle cx="104.9" cy="234.1" r="6.6" fill="url(#g1)" fill-opacity="0.80" style="mix-blend-mode:screen"/>
<circle cx="47.5" cy="240.6" r="6.6" fill="url(#g1)" fill-opacity="1.00" style="mix-blend-mode:screen"/>
<circle cx="169.8" cy="229.8" r="6.6" fill="url(#g1)" fill-opacity="0.30" style="mix-blend-mode:screen"/>
</g></g>
<rect x="26.7" y="28.8" width="78.6" height="21.6" fill="#231815"/>
<text x="29.3" y="45.9" font-family="Liberation Sans, Arial, sans-serif" font-size="16.8" font-style="italic" fill="#fff">C</text>
<text transform="translate(40.2,47.5) scale(1.3,1)" font-family="Liberation Sans, Arial, sans-serif" font-size="10.6" fill="#fff">EG</text>
<text x="64.9" y="45.9" font-family="Liberation Sans, Arial, sans-serif" font-size="16.6" fill="#fff">= 0%</text>
<rect x="176.8" y="28.8" width="90.8" height="21.6" fill="#231815"/>
<text x="179.4" y="45.9" font-family="Liberation Sans, Arial, sans-serif" font-size="16.8" font-style="italic" fill="#fff">C</text>
<text transform="translate(190.3,47.5) scale(1.3,1)" font-family="Liberation Sans, Arial, sans-serif" font-size="10.6" fill="#fff">EG</text>
<text x="215.0" y="45.9" font-family="Liberation Sans, Arial, sans-serif" font-size="16.6" fill="#fff">= 45%</text>
<rect x="26.7" y="140" width="94.0" height="22.4" fill="#231815"/>
<text x="30.3" y="157.7" font-family="Liberation Sans, Arial, sans-serif" font-size="16.8" font-style="italic" fill="#fff">C</text>
<text transform="translate(41.2,159.3) scale(1.3,1)" font-family="Liberation Sans, Arial, sans-serif" font-size="10.6" fill="#fff">EG</text>
<text x="65.9" y="157.7" font-family="Liberation Sans, Arial, sans-serif" font-size="16.6" fill="#fff">= 95%</text>
<rect x="242.8" y="143.4" width="80" height="4.6" fill="#231815"/>
<text x="265.3" y="163.8" font-family="Liberation Sans, Arial, sans-serif" font-size="16" fill="#231815">5 <tspan font-family="Liberation Serif, Times New Roman, serif" font-size="17">μ</tspan>m</text>
<text x="0.4" y="16.6" font-family="Liberation Sans, Arial, sans-serif" font-size="21" fill="#231815">(a)</text>
<text x="347.2" y="16.6" font-family="Liberation Sans, Arial, sans-serif" font-size="21" fill="#231815">(b)</text>
<text x="0.4" y="315.4" font-family="Liberation Sans, Arial, sans-serif" font-size="21" fill="#231815">(c)</text>
<text x="258.9" y="317.8" font-family="Liberation Sans, Arial, sans-serif" font-size="21" fill="#231815">(d)</text>
<g stroke="#4d4d4d" stroke-width="1" fill="none">
<rect x="429.8" y="29.5" width="217.2" height="202.2"/>
<path d="M429.8,211.5h6.5M647.0,211.5h-6.5"/>
<path d="M429.8,191.3h6.5M647.0,191.3h-6.5"/>
<path d="M429.8,171.0h6.5M647.0,171.0h-6.5"/>
<path d="M429.8,150.8h6.5M647.0,150.8h-6.5"/>
<path d="M429.8,130.6h6.5M647.0,130.6h-6.5"/>
<path d="M429.8,110.4h6.5M647.0,110.4h-6.5"/>
<path d="M429.8,90.2h6.5M647.0,90.2h-6.5"/>
<path d="M429.8,69.9h6.5M647.0,69.9h-6.5"/>
<path d="M429.8,49.7h6.5M647.0,49.7h-6.5"/>
<path d="M475.5,231.7v-5M475.5,29.5v5"/>
<path d="M521.3,231.7v-5M521.3,29.5v5"/>
<path d="M567.0,231.7v-5M567.0,29.5v5"/>
<path d="M612.7,231.7v-5M612.7,29.5v5"/>
</g>
<text x="420.7" y="237.3" text-anchor="end" font-family="Liberation Sans, Arial, sans-serif" font-size="16" fill="#231815">0</text>
<text x="423" y="196.9" text-anchor="end" font-family="Liberation Sans, Arial, sans-serif" font-size="16" fill="#231815">0.1</text>
<text x="423" y="156.4" text-anchor="end" font-family="Liberation Sans, Arial, sans-serif" font-size="16" fill="#231815">0.2</text>
<text x="423" y="116.0" text-anchor="end" font-family="Liberation Sans, Arial, sans-serif" font-size="16" fill="#231815">0.3</text>
<text x="423" y="75.5" text-anchor="end" font-family="Liberation Sans, Arial, sans-serif" font-size="16" fill="#231815">0.4</text>
<text x="423" y="31.8" text-anchor="end" font-family="Liberation Sans, Arial, sans-serif" font-size="16" fill="#231815">0.5</text>
<text x="429.8" y="250.9" text-anchor="middle" font-family="Liberation Sans, Arial, sans-serif" font-size="16" fill="#231815">0</text>
<text x="475.5" y="250.9" text-anchor="middle" font-family="Liberation Sans, Arial, sans-serif" font-size="16" fill="#231815">20</text>
<text x="521.3" y="250.9" text-anchor="middle" font-family="Liberation Sans, Arial, sans-serif" font-size="16" fill="#231815">40</text>
<text x="567.0" y="250.9" text-anchor="middle" font-family="Liberation Sans, Arial, sans-serif" font-size="16" fill="#231815">60</text>
<text x="612.7" y="250.9" text-anchor="middle" font-family="Liberation Sans, Arial, sans-serif" font-size="16" fill="#231815">80</text>
<text x="647.0" y="250.9" text-anchor="middle" font-family="Liberation Sans, Arial, sans-serif" font-size="16" fill="#231815">95</text>
<text x="381.4" y="134.1" font-family="Liberation Serif, Times New Roman, serif" font-size="17.2" font-style="italic" fill="#231815">ϕ</text>
<text x="511.2" y="271.4" font-family="Liberation Sans, Arial, sans-serif" font-size="17.4" font-style="italic" fill="#231815">C</text>
<text transform="translate(523.8,272.7) scale(1.36,1)" font-family="Liberation Sans, Arial, sans-serif" font-size="10.4" fill="#231815">EG</text>
<text x="545.2" y="271.4" font-family="Liberation Sans, Arial, sans-serif" font-size="17.6" letter-spacing="0.3" fill="#231815">(%)</text>
<text x="554.2" y="134" font-family="Liberation Sans, Arial, sans-serif" font-size="13" fill="#231815">PDMA</text>
<text x="475.8" y="182" font-family="Liberation Sans, Arial, sans-serif" font-size="13" fill="#231815">PAA<tspan font-size="9.5" dy="1.5">m</tspan></text>
<path d="M429.8,66.0 L435.2,69.9 L440.7,73.8 L446.1,77.7 L451.5,81.6 L456.9,85.4 L462.4,89.2 L467.8,92.9 L473.2,96.7 L478.7,100.4 L484.1,104.1 L489.5,107.7 L495.0,111.3 L500.4,114.9 L505.8,118.5 L511.2,122.0 L516.7,125.6 L522.1,129.0 L527.5,132.5 L533.0,135.9 L538.4,139.3 L543.8,142.7 L549.3,146.0 L554.7,149.4 L560.1,152.6 L565.5,155.9 L571.0,159.1 L576.4,162.3 L581.8,165.5 L587.3,168.7 L592.7,171.8 L598.1,174.9 L603.6,177.9 L609.0,181.0 L614.4,184.0 L619.9,187.0 L625.3,189.9 L630.7,192.8 L636.1,195.7 L641.6,198.6 L647.0,201.4" stroke="#2e2a8c" stroke-width="1.4" fill="none" stroke-dasharray="5.2 4"/>
<path d="M429.8,108.7 L430.6,109.5 L431.6,110.4 L432.8,111.6 L434.1,112.9 L435.7,114.3 L437.4,115.9 L439.3,117.6 L441.3,119.3 L443.6,121.2 L446.2,123.4 L448.9,125.6 L451.9,128.0 L454.9,130.5 L458.0,132.8 L461.0,135.1 L463.9,137.2 L466.7,139.1 L469.6,141.0 L472.5,142.8 L475.3,144.5 L478.2,146.2 L481.1,147.9 L483.9,149.5 L486.8,151.2 L489.7,152.9 L492.6,154.6 L495.4,156.2 L498.3,157.9 L501.2,159.5 L504.1,161.1 L506.9,162.7 L509.8,164.3 L512.6,165.9 L515.5,167.5 L518.3,169.1 L521.1,170.6 L523.9,172.2 L526.7,173.7 L529.6,175.2 L532.4,176.6 L535.3,178.0 L538.1,179.4 L541.0,180.7 L543.9,182.0 L546.8,183.2 L549.7,184.5 L552.5,185.7 L555.4,186.8 L558.3,187.9 L561.1,188.9 L564.0,189.9 L566.8,190.9 L569.7,191.9 L572.5,192.8 L575.4,193.7 L578.2,194.6 L581.1,195.5 L583.9,196.4 L586.8,197.2 L589.6,198.1 L592.5,198.9 L595.3,199.7 L598.2,200.5 L601.0,201.3 L603.8,202.1 L606.7,202.9 L609.5,203.7 L612.4,204.4 L615.2,205.2 L618.1,205.9 L620.9,206.6 L623.8,207.2 L626.8,207.8 L630.1,208.4 L633.5,209.0 L636.8,209.6 L640.0,210.1 L642.8,210.5 L645.2,210.9 L647.0,211.2" stroke="#e8481c" stroke-width="1.5" fill="none" stroke-linejoin="round" />
<circle cx="429.8" cy="65.1" r="3.75" fill="#2e2a8c"/>
<path d="M441.3,64.2V73.1M438.8,64.2h5.0M438.8,73.1h5.0" stroke="#2e2a8c" stroke-width="1.55" fill="none"/>
<circle cx="441.3" cy="68.7" r="3.75" fill="#2e2a8c"/>
<path d="M463.9,90.0V116.7M461.4,90.0h5.0M461.4,116.7h5.0" stroke="#2e2a8c" stroke-width="1.55" fill="none"/>
<circle cx="463.9" cy="103.3" r="3.75" fill="#2e2a8c"/>
<path d="M486.8,122.0V133.6M484.3,122.0h5.0M484.3,133.6h5.0" stroke="#2e2a8c" stroke-width="1.55" fill="none"/>
<circle cx="486.8" cy="127.7" r="3.75" fill="#2e2a8c"/>
<path d="M509.8,104.8V121.1M507.3,104.8h5.0M507.3,121.1h5.0" stroke="#2e2a8c" stroke-width="1.55" fill="none"/>
<circle cx="509.8" cy="113.1" r="3.75" fill="#2e2a8c"/>
<circle cx="532.4" cy="115.8" r="3.75" fill="#2e2a8c"/>
<path d="M555.4,139.2V152.7M552.9,139.2h5.0M552.9,152.7h5.0" stroke="#2e2a8c" stroke-width="1.55" fill="none"/>
<circle cx="555.4" cy="145.7" r="3.75" fill="#2e2a8c"/>
<path d="M578.2,163.0V186.0M575.7,163.0h5.0M575.7,186.0h5.0" stroke="#2e2a8c" stroke-width="1.55" fill="none"/>
<circle cx="578.2" cy="174.5" r="3.75" fill="#2e2a8c"/>
<path d="M601.0,169.0V193.6M598.5,169.0h5.0M598.5,193.6h5.0" stroke="#2e2a8c" stroke-width="1.55" fill="none"/>
<circle cx="601.0" cy="180.7" r="3.75" fill="#2e2a8c"/>
<path d="M623.8,197.5V204.0M621.3,197.5h5.0M621.3,204.0h5.0" stroke="#2e2a8c" stroke-width="1.55" fill="none"/>
<circle cx="623.8" cy="200.6" r="3.75" fill="#2e2a8c"/>
<path d="M646.8,202.0V211.8M644.3,202.0h5.0M644.3,211.8h5.0" stroke="#2e2a8c" stroke-width="1.55" fill="none"/>
<circle cx="646.8" cy="207.9" r="3.75" fill="#2e2a8c"/>
<path d="M429.8,83.4V118.4M427.3,83.4h5.0M427.3,118.4h5.0" stroke="#dc1f20" stroke-width="1.55" fill="none"/>
<circle cx="429.8" cy="101.6" r="3.75" fill="#dc1f20"/>
<path d="M441.3,118.4V130.9M438.8,118.4h5.0M438.8,130.9h5.0" stroke="#dc1f20" stroke-width="1.55" fill="none"/>
<circle cx="441.3" cy="124.7" r="3.75" fill="#dc1f20"/>
<path d="M463.9,137.5V140.5M461.4,137.5h5.0M461.4,140.5h5.0" stroke="#dc1f20" stroke-width="1.55" fill="none"/>
<circle cx="463.9" cy="139.0" r="3.75" fill="#dc1f20"/>
<path d="M486.8,146.9V155.2M484.3,146.9h5.0M484.3,155.2h5.0" stroke="#dc1f20" stroke-width="1.55" fill="none"/>
<circle cx="486.8" cy="151.0" r="3.75" fill="#dc1f20"/>
<path d="M509.8,146.4V165.2M507.3,146.4h5.0M507.3,165.2h5.0" stroke="#dc1f20" stroke-width="1.55" fill="none"/>
<circle cx="509.8" cy="156.1" r="3.75" fill="#dc1f20"/>
<path d="M532.4,167.3V189.1M529.9,167.3h5.0M529.9,189.1h5.0" stroke="#dc1f20" stroke-width="1.55" fill="none"/>
<circle cx="532.4" cy="178.2" r="3.75" fill="#dc1f20"/>
<path d="M555.4,181.2V194.9M552.9,181.2h5.0M552.9,194.9h5.0" stroke="#dc1f20" stroke-width="1.55" fill="none"/>
<circle cx="555.4" cy="188.2" r="3.75" fill="#dc1f20"/>
<path d="M578.2,187.5V190.9M575.7,187.5h5.0M575.7,190.9h5.0" stroke="#dc1f20" stroke-width="1.55" fill="none"/>
<circle cx="578.2" cy="189.2" r="3.75" fill="#dc1f20"/>
<path d="M601.0,195.7V205.8M598.5,195.7h5.0M598.5,205.8h5.0" stroke="#dc1f20" stroke-width="1.55" fill="none"/>
<circle cx="601.0" cy="200.9" r="3.75" fill="#dc1f20"/>
<path d="M623.8,207.0V216.0M621.3,207.0h5.0M621.3,216.0h5.0" stroke="#dc1f20" stroke-width="1.55" fill="none"/>
<circle cx="623.8" cy="211.2" r="3.75" fill="#dc1f20"/>
<path d="M646.8,206.6V215.4M644.3,206.6h5.0M644.3,215.4h5.0" stroke="#dc1f20" stroke-width="1.55" fill="none"/>
<circle cx="646.8" cy="210.7" r="3.75" fill="#dc1f20"/>
<path d="M26.3,470.1 L60.5,470.1 C72,470.3 80.5,475.7 86.8,480.9 A69.8,69.8 0 0 0 172.6,480.9 C178.9,475.7 187.4,470.3 198.9,470.1 L233.7,470.1 L233.7,544.8 C180,546 120,547 26.3,545.8 Z" fill="#afd2eb"/>
<path d="M86.8,480.9 A69.8,69.8 0 0 0 172.6,480.9 L172.6,468.9 L86.8,468.9 Z" fill="#fff"/>
<circle cx="128.6" cy="425.0" r="69.8" fill="none" stroke="#2396cc" stroke-width="1.5" stroke-dasharray="4.8 3.8"/>
<path d="M86.8,480.9 A69.8,69.8 0 0 0 172.6,480.9" fill="none" stroke="#ee9a1c" stroke-width="2.8"/>
<path d="M26.3,470.1H234" stroke="#454a4a" stroke-width="1.5" fill="none" stroke-dasharray="4.6 4.7"/>
<circle cx="128.6" cy="425.0" r="61.2" fill="url(#sph)"/>
<path d="M26.3,470.1H234" stroke="#0a5a30" stroke-opacity="0.22" stroke-width="1.4" fill="none" stroke-dasharray="4.6 4.7"/>
<g stroke="#454a4a" stroke-width="1.5" fill="none" stroke-dasharray="4.6 4.7">
<path d="M129.5,496.4H234"/>
<path d="M86.8,480.9V516.5M172.6,480.9V516.5"/>
</g>
<path d="M90.20,508.50L169.20,508.50" stroke="#111" stroke-width="1.1" fill="none"/>
<path d="M172.30,508.50 L166.10,511.05 L168.08,508.50 L166.10,505.95Z" fill="#111"/>
<path d="M87.10,508.50 L93.30,505.95 L91.32,508.50 L93.30,511.05Z" fill="#111"/>
<path d="M198.80,472.05L198.80,494.55" stroke="#111" stroke-width="1.0" fill="none"/>
<path d="M198.80,496.10 L197.35,493.00 L198.80,493.99 L200.25,493.00Z" fill="#111"/>
<path d="M198.80,470.50 L200.25,473.60 L198.80,472.61 L197.35,473.60Z" fill="#111"/>
<path d="M130.82,422.81L169.98,384.29" stroke="#111" stroke-width="1.25" fill="none"/>
<path d="M171.90,382.40 L169.80,387.97 L169.28,384.98 L166.30,384.40Z" fill="#111"/>
<path d="M128.90,424.70 L131.00,419.13 L131.52,422.12 L134.50,422.70Z" fill="#111"/>
<path d="M55.1,438.9 L128.4,486.4 M128.6,486.2V494" stroke-width="0.75" stroke="#444" fill="none"/>
<circle cx="128.8" cy="437.8" r="0.7" fill="#2a6a3a"/>
<text x="43.6" y="442.3" font-family="Liberation Serif, Times New Roman, serif" font-size="17.5" font-style="italic" fill="#231815">δ</text>
<text x="135.3" y="397.3" font-family="Liberation Serif, Times New Roman, serif" font-size="16.5" font-style="italic" fill="#231815">a<tspan font-family="Liberation Sans, Arial, sans-serif" font-style="normal" font-size="13.5" dy="2.1" dx="0.8">p</tspan></text>
<text x="204.6" y="489.4" font-family="Liberation Serif, Times New Roman, serif" font-size="16.5" font-style="italic" fill="#231815">d<tspan font-family="Liberation Sans, Arial, sans-serif" font-style="normal" font-size="13.5" dy="2.3" dx="0.6">0</tspan></text>
<text x="117.8" y="524.6" font-family="Liberation Serif, Times New Roman, serif" font-size="16.5" fill="#231815">2<tspan font-style="italic">a</tspan><tspan font-family="Liberation Sans, Arial, sans-serif" font-size="14.5" dy="4.2" dx="0.6">0</tspan></text>
<g stroke="#3c3c3c" stroke-width="1.1" fill="none">
<rect x="330.8" y="290.8" width="331.3" height="212.5"/>
<path d="M662.1,462.4h-5.5M330.8,462.4h5.2"/>
<path d="M662.1,421.5h-5.5M330.8,421.5h5.2"/>
<path d="M662.1,380.6h-5.5M330.8,380.6h5.2"/>
<path d="M662.1,339.7h-5.5M330.8,339.7h5.2"/>
<path d="M662.1,298.8h-5.5M330.8,298.8h5.2"/>
<path d="M397.1,503.3v-5M397.1,290.8v5"/>
<path d="M463.3,503.3v-5M463.3,290.8v5"/>
<path d="M529.5,503.3v-5M529.5,290.8v5"/>
<path d="M595.8,503.3v-5M595.8,290.8v5"/>
</g>
<path d="M329.8,462.4h9.8" stroke="#111" stroke-width="1.7"/>
<path d="M329.8,339.7h9.8" stroke="#111" stroke-width="1.7"/>
<text x="321.8" y="509.7" text-anchor="end" font-family="Liberation Sans, Arial, sans-serif" font-size="16" fill="#231815">0</text>
<text x="321.8" y="468.8" text-anchor="end" font-family="Liberation Sans, Arial, sans-serif" font-size="16" fill="#231815">5</text>
<text x="321.8" y="427.9" text-anchor="end" font-family="Liberation Sans, Arial, sans-serif" font-size="16" fill="#231815">10</text>
<text x="321.8" y="387.0" text-anchor="end" font-family="Liberation Sans, Arial, sans-serif" font-size="16" fill="#231815">15</text>
<text x="321.8" y="346.1" text-anchor="end" font-family="Liberation Sans, Arial, sans-serif" font-size="16" fill="#231815">20</text>
<text x="321.8" y="305.2" text-anchor="end" font-family="Liberation Sans, Arial, sans-serif" font-size="16" fill="#231815">25</text>
<text x="330.8" y="521.7" text-anchor="middle" font-family="Liberation Sans, Arial, sans-serif" font-size="16" fill="#231815">0</text>
<text x="397.1" y="521.7" text-anchor="middle" font-family="Liberation Sans, Arial, sans-serif" font-size="16" fill="#231815">0.2</text>
<text x="463.3" y="521.7" text-anchor="middle" font-family="Liberation Sans, Arial, sans-serif" font-size="16" fill="#231815">0.4</text>
<text x="529.5" y="521.7" text-anchor="middle" font-family="Liberation Sans, Arial, sans-serif" font-size="16" fill="#231815">0.6</text>
<text x="595.8" y="521.7" text-anchor="middle" font-family="Liberation Sans, Arial, sans-serif" font-size="16" fill="#231815">0.8</text>
<text x="662.0" y="521.7" text-anchor="middle" font-family="Liberation Sans, Arial, sans-serif" font-size="16" fill="#231815">1.0</text>
<text x="281" y="396.6" text-anchor="middle" font-family="Liberation Sans, Arial, sans-serif" font-size="15.8" fill="#231815">1</text>
<path d="M271.3,402.6H292.6" stroke="#555" stroke-width="1"/>
<text x="282.4" y="417.3" text-anchor="middle" font-family="Liberation Serif, Times New Roman, serif" font-size="16.6" font-style="italic" fill="#231815">ϕ</text>
<text x="439.6" y="560" font-family="Liberation Sans, Arial, sans-serif" font-size="17.5" letter-spacing="0.6" fill="#231815">exp[</text>
<text x="478.2" y="548.5" font-family="Liberation Sans, Arial, sans-serif" font-size="15.6" font-style="italic" fill="#231815">U</text>
<text x="491.3" y="551.2" font-family="Liberation Sans, Arial, sans-serif" font-size="13.2" font-style="italic" fill="#231815">m</text>
<text x="505.4" y="549.9" font-family="Liberation Sans, Arial, sans-serif" font-size="19" fill="#231815">-</text>
<text x="516.4" y="548.5" font-family="Liberation Sans, Arial, sans-serif" font-size="15.6" font-style="italic" fill="#231815">U</text>
<text x="528.9" y="551.2" font-family="Liberation Sans, Arial, sans-serif" font-size="13.6" font-style="italic" letter-spacing="0.7" fill="#231815">de</text>
<path d="M477.6,556.65H546.1" stroke="#333" stroke-width="1"/>
<text x="496.2" y="574.3" font-family="Liberation Sans, Arial, sans-serif" font-size="16.5" font-style="italic" fill="#231815">k</text>
<text x="504.9" y="575.8" font-family="Liberation Sans, Arial, sans-serif" font-size="12" fill="#231815">B</text>
<text x="516.6" y="574.3" font-family="Liberation Sans, Arial, sans-serif" font-size="16.5" font-style="italic" fill="#231815">T</text>
<text x="549.2" y="560" font-family="Liberation Sans, Arial, sans-serif" font-size="17.5" fill="#231815">]</text>
<text x="365.2" y="325.1" font-family="Liberation Serif, Times New Roman, serif" font-size="16.5" font-style="italic" fill="#231815">δ</text>
<text x="379.2" y="324.3" font-family="Liberation Sans, Arial, sans-serif" font-size="13" fill="#231815">=</text>
<text x="390.6" y="324.3" font-family="Liberation Sans, Arial, sans-serif" font-size="13.2" fill="#231815">1.0 nm</text>
<text x="406.3" y="363.8" font-family="Liberation Sans, Arial, sans-serif" font-size="13.2" fill="#231815">1.5 nm</text>
<text x="474.2" y="405.2" font-family="Liberation Sans, Arial, sans-serif" font-size="13.2" fill="#231815">2.0 nm</text>
<text x="554.6" y="466.3" font-family="Liberation Sans, Arial, sans-serif" font-size="13.2" fill="#231815">3.0 nm</text>
<clipPath id="cd"><rect x="324.8" y="290.8" width="337.3" height="212.5"/></clipPath>
<g clip-path="url(#cd)">
<path d="M330.8,478.6 L335.8,476.8 L342.6,474.4 L350.6,471.6 L359.5,468.5 L368.8,465.2 L378.1,461.9 L387.0,458.7 L395.0,455.9 L402.4,453.3 L409.6,450.7 L416.7,448.2 L423.7,445.8 L430.5,443.4 L437.2,441.0 L443.7,438.7 L450.0,436.4 L456.3,434.1 L462.5,431.8 L468.7,429.5 L474.6,427.2 L480.3,425.0 L485.7,423.0 L490.6,421.1 L495.0,419.4 L498.7,417.9 L501.9,416.7 L504.5,415.7 L506.9,414.7 L509.0,413.9 L511.1,413.0 L513.3,412.0 L515.7,410.9 L518.3,409.7 L521.0,408.4 L523.8,407.0 L526.5,405.7 L529.2,404.3 L531.7,403.0 L534.2,401.7 L536.5,400.5 L538.6,399.4 L540.6,398.3 L542.5,397.2 L544.3,396.2 L546.0,395.2 L547.7,394.2 L549.3,393.3 L551.0,392.3 L552.7,391.4 L554.3,390.5 L555.8,389.6 L557.4,388.8 L558.9,387.9 L560.4,387.0 L561.9,386.0 L563.4,385.0 L564.9,383.9 L566.4,382.7 L567.9,381.5 L569.3,380.3 L570.8,379.0 L572.2,377.7 L573.6,376.3 L575.0,374.8 L576.4,373.3 L577.7,371.6 L579.1,370.0 L580.4,368.2 L581.7,366.5 L583.0,364.7 L584.2,362.8 L585.4,361.0 L586.6,359.2 L587.7,357.3 L588.8,355.4 L589.9,353.5 L591.0,351.6 L592.0,349.6 L593.0,347.5 L594.0,345.4 L595.0,343.2 L595.9,340.8 L596.9,338.3 L597.8,335.8 L598.6,333.4 L599.5,331.0 L600.2,328.6 L600.9,326.5 L601.5,324.5 L602.0,322.7 L602.5,321.0 L602.9,319.4 L603.3,317.7 L603.7,316.1 L604.0,314.4 L604.4,312.6 L604.8,310.6 L605.2,308.4 L605.6,306.1 L605.9,303.8 L606.3,301.6 L606.6,299.6 L606.8,297.9 L607.0,296.7" stroke="#ebe236" stroke-width="1.6" fill="none" stroke-linejoin="round" />
<path d="M330.8,478.8L662.0,364.2" stroke="#111" stroke-width="1.7" stroke-dasharray="7 4.5" fill="none"/>
<path d="M330.8,462.0 L332.1,460.9 L333.8,459.4 L335.8,457.6 L338.0,455.7 L340.3,453.6 L342.7,451.6 L344.9,449.6 L347.0,447.9 L348.9,446.4 L350.6,445.0 L352.3,443.7 L354.0,442.4 L355.7,441.1 L357.5,439.7 L359.4,438.2 L361.5,436.5 L363.8,434.6 L366.2,432.6 L368.8,430.5 L371.5,428.3 L374.2,426.1 L376.9,423.8 L379.6,421.6 L382.2,419.5 L384.8,417.5 L387.3,415.4 L389.8,413.5 L392.4,411.5 L395.0,409.5 L397.6,407.5 L400.2,405.4 L403.0,403.3 L405.8,401.2 L408.6,399.0 L411.4,396.9 L414.3,394.7 L417.3,392.4 L420.4,390.0 L423.6,387.6 L427.1,385.0 L430.7,382.3 L434.4,379.5 L438.2,376.7 L442.2,373.7 L446.3,370.7 L450.6,367.5 L455.2,364.2 L460.0,360.7 L465.1,357.1 L470.6,353.2 L476.3,349.2 L482.1,345.1 L488.1,340.9 L494.2,336.7 L500.1,332.6 L506.0,328.5 L512.1,324.3 L518.7,319.7 L525.5,315.0 L532.2,310.4 L538.5,306.1 L544.2,302.2 L549.0,298.9 L552.6,296.4" stroke="#f4a620" stroke-width="1.5" fill="none" stroke-linejoin="round" />
<path d="M330.8,480.1 L336.0,479.8 L343.2,479.4 L351.8,478.9 L361.2,478.3 L370.8,477.8 L380.1,477.2 L388.3,476.7 L395.0,476.2 L400.1,475.8 L404.3,475.4 L407.8,475.0 L410.8,474.6 L413.4,474.2 L416.0,473.9 L418.8,473.5 L421.9,473.1 L425.3,472.7 L428.6,472.3 L432.0,471.9 L435.4,471.5 L438.8,471.1 L442.2,470.7 L445.5,470.4 L448.9,470.0 L452.3,469.7 L455.8,469.3 L459.3,469.0 L462.8,468.7 L466.3,468.4 L469.6,468.1 L472.8,467.8 L475.8,467.5 L478.6,467.2 L481.2,466.8 L483.6,466.5 L485.9,466.2 L488.2,465.9 L490.4,465.5 L492.7,465.2 L495.0,464.8 L497.4,464.4 L499.7,464.1 L502.1,463.8 L504.5,463.4 L506.8,463.0 L509.1,462.6 L511.4,462.2 L513.7,461.7 L516.0,461.2 L518.2,460.6 L520.4,460.0 L522.6,459.4 L524.7,458.7 L526.9,458.0 L529.1,457.3 L531.3,456.5 L533.5,455.7 L535.8,454.8 L538.1,453.9 L540.4,453.0 L542.7,452.0 L544.9,451.1 L546.9,450.1 L548.9,449.2 L550.7,448.3 L552.4,447.4 L553.9,446.5 L555.4,445.7 L556.9,444.8 L558.3,443.9 L559.8,443.0 L561.3,442.0 L562.9,441.0 L564.4,440.1 L566.0,439.1 L567.5,438.1 L569.1,437.1 L570.7,436.0 L572.2,434.9 L573.8,433.7 L575.4,432.4 L576.9,431.1 L578.5,429.8 L580.0,428.4 L581.6,426.9 L583.1,425.4 L584.7,423.9 L586.2,422.3 L587.8,420.6 L589.3,418.9 L590.9,417.1 L592.5,415.2 L594.1,413.4 L595.6,411.5 L597.1,409.6 L598.6,407.8 L600.0,406.0 L601.4,404.1 L602.8,402.3 L604.2,400.4 L605.5,398.6 L606.7,396.8 L607.9,395.0 L609.0,393.3 L610.0,391.7 L610.9,390.1 L611.8,388.6 L612.6,387.1 L613.3,385.6 L614.1,384.1 L614.8,382.5 L615.6,380.9 L616.4,379.2 L617.1,377.4 L617.9,375.7 L618.6,373.9 L619.3,372.0 L620.1,370.1 L620.8,368.2 L621.6,366.2 L622.4,364.2 L623.3,362.1 L624.1,359.9 L625.0,357.8 L625.9,355.6 L626.7,353.3 L627.6,351.1 L628.5,348.9 L629.4,346.7 L630.2,344.5 L631.0,342.3 L631.9,340.1 L632.8,337.9 L633.6,335.6 L634.5,333.2 L635.5,330.8 L636.5,328.2 L637.6,325.5 L638.7,322.7 L639.8,319.9 L641.0,317.1 L642.1,314.3 L643.1,311.7 L644.1,309.2 L645.0,306.8 L646.0,304.4 L646.9,302.1 L647.8,299.8 L648.6,297.7 L649.3,295.8 L650.0,294.2 L650.5,292.8 L650.9,291.8 L651.2,291.1 L651.3,290.6 L651.4,290.4 L651.4,290.2 L651.4,290.2 L651.5,290.1 L651.5,290.0" stroke="#1a69b4" stroke-width="1.7" fill="none" stroke-linejoin="round" />
<path d="M330.9,478.0 L330.9,474.2 L330.9,469.1 L330.9,462.9 L330.9,456.2 L330.9,449.1 L331.0,442.2 L331.0,435.7 L331.0,430.0 L331.0,424.8 L331.1,419.7 L331.1,414.8 L331.1,410.1 L331.2,405.7 L331.2,401.7 L331.3,398.2 L331.4,395.2 L331.5,392.9 L331.6,391.3 L331.8,390.2 L331.9,389.4 L332.1,388.9 L332.3,388.4 L332.4,387.8 L332.6,387.0 L332.8,386.0 L332.9,385.1 L333.0,384.2 L333.2,383.3 L333.4,382.4 L333.6,381.4 L333.8,380.3 L334.1,379.0 L334.4,377.6 L334.8,376.0 L335.3,374.4 L335.7,372.6 L336.2,370.9 L336.7,369.1 L337.2,367.4 L337.7,365.7 L338.2,364.1 L338.8,362.6 L339.3,361.1 L339.9,359.5 L340.5,358.0 L341.1,356.5 L341.7,354.9 L342.3,353.3 L342.9,351.6 L343.6,349.9 L344.3,348.1 L345.0,346.4 L345.6,344.6 L346.4,342.8 L347.1,341.0 L347.8,339.3 L348.5,337.6 L349.3,335.9 L350.0,334.3 L350.8,332.6 L351.6,331.0 L352.4,329.3 L353.2,327.7 L354.0,326.1 L354.8,324.5 L355.7,322.9 L356.6,321.3 L357.4,319.8 L358.3,318.2 L359.2,316.6 L360.1,315.1 L361.0,313.6 L361.9,312.1 L362.7,310.6 L363.6,309.2 L364.5,307.7 L365.3,306.3 L366.2,304.9 L367.1,303.4 L368.0,302.0 L368.9,300.5 L370.0,298.9 L371.0,297.3 L372.1,295.8 L373.1,294.3 L374.0,292.9 L374.8,291.7 L375.4,290.8 L375.8,290.1 L376.1,289.7 L376.3,289.4 L376.4,289.3 L376.4,289.3 L376.4,289.3 L376.5,289.3 L376.5,289.2" stroke="#d6232a" stroke-width="1.6" fill="none" stroke-linejoin="round" />
<path d="M644.5,364.2V300.4M640.7,364.2h7.6M640.7,300.4h7.6" stroke="#2b4aa1" stroke-width="1.5" fill="none"/>
<path d="M628.6,367.5V293.5M624.8,367.5h7.6M624.8,293.5h7.6" stroke="#2b4aa1" stroke-width="1.5" fill="none"/>
<path d="M613.2,410.9V376.5M609.4,410.9h7.6M609.4,376.5h7.6" stroke="#2b4aa1" stroke-width="1.5" fill="none"/>
<path d="M595.5,429.0V419.9M591.7,429.0h7.6M591.7,419.9h7.6" stroke="#2b4aa1" stroke-width="1.5" fill="none"/>
<path d="M578.6,437.0V411.9M574.8,437.0h7.6M574.8,411.9h7.6" stroke="#2b4aa1" stroke-width="1.5" fill="none"/>
<path d="M561.4,451.0V425.4M557.6,451.0h7.6M557.6,425.4h7.6" stroke="#2b4aa1" stroke-width="1.5" fill="none"/>
<path d="M531.2,464.0V453.4M527.4,464.0h7.6M527.4,453.4h7.6" stroke="#2b4aa1" stroke-width="1.5" fill="none"/>
<path d="M499.7,464.4V459.5M495.9,464.4h7.6M495.9,459.5h7.6" stroke="#2b4aa1" stroke-width="1.5" fill="none"/>
<path d="M476.6,468.5V465.3M472.8,468.5h7.6M472.8,465.3h7.6" stroke="#2b4aa1" stroke-width="1.5" fill="none"/>
<path d="M423.2,473.9V470.6M419.4,473.9h7.6M419.4,470.6h7.6" stroke="#2b4aa1" stroke-width="1.5" fill="none"/>
<path d="M391.6,480.0V473.9M387.8,480.0h7.6M387.8,473.9h7.6" stroke="#2b4aa1" stroke-width="1.5" fill="none"/>
<circle cx="644.5" cy="339.7" r="3.55" fill="#2b4aa1"/>
<circle cx="628.6" cy="339.7" r="3.55" fill="#2b4aa1"/>
<circle cx="613.2" cy="397.8" r="3.55" fill="#2b4aa1"/>
<circle cx="595.5" cy="424.6" r="3.55" fill="#2b4aa1"/>
<circle cx="578.6" cy="427.5" r="3.55" fill="#2b4aa1"/>
<circle cx="561.4" cy="441.7" r="3.55" fill="#2b4aa1"/>
<circle cx="531.2" cy="459.1" r="3.55" fill="#2b4aa1"/>
<circle cx="499.7" cy="462.4" r="3.55" fill="#2b4aa1"/>
<circle cx="476.6" cy="467.7" r="3.55" fill="#2b4aa1"/>
<circle cx="423.2" cy="472.2" r="3.55" fill="#2b4aa1"/>
<circle cx="391.6" cy="477.1" r="3.55" fill="#2b4aa1"/>
<path d="M353.7,364.2V300.4M349.9,364.2h7.6M349.9,300.4h7.6" stroke="#d6232a" stroke-width="1.5" fill="none"/>
<path d="M334.9,367.5V293.5M331.1,367.5h7.6M331.1,293.5h7.6" stroke="#d6232a" stroke-width="1.5" fill="none"/>
<path d="M330.8,410.9V376.5M327.0,410.9h7.6M327.0,376.5h7.6" stroke="#d6232a" stroke-width="1.5" fill="none"/>
<path d="M330.8,429.0V419.9M327.0,429.0h7.6M327.0,419.9h7.6" stroke="#d6232a" stroke-width="1.5" fill="none"/>
<path d="M330.8,437.0V411.9M327.0,437.0h7.6M327.0,411.9h7.6" stroke="#d6232a" stroke-width="1.5" fill="none"/>
<path d="M330.8,451.0V425.4M327.0,451.0h7.6M327.0,425.4h7.6" stroke="#d6232a" stroke-width="1.5" fill="none"/>
<path d="M330.8,464.0V453.4M327.0,464.0h7.6M327.0,453.4h7.6" stroke="#d6232a" stroke-width="1.5" fill="none"/>
<path d="M330.8,464.4V459.5M327.0,464.4h7.6M327.0,459.5h7.6" stroke="#d6232a" stroke-width="1.5" fill="none"/>
<path d="M330.8,468.5V465.3M327.0,468.5h7.6M327.0,465.3h7.6" stroke="#d6232a" stroke-width="1.5" fill="none"/>
<path d="M330.8,473.9V470.6M327.0,473.9h7.6M327.0,470.6h7.6" stroke="#d6232a" stroke-width="1.5" fill="none"/>
<path d="M330.8,480.0V473.9M327.0,480.0h7.6M327.0,473.9h7.6" stroke="#d6232a" stroke-width="1.5" fill="none"/>
<circle cx="353.7" cy="334.0" r="3.55" fill="#d6232a"/>
<circle cx="334.9" cy="329.1" r="3.55" fill="#d6232a"/>
<circle cx="330.8" cy="397.8" r="3.55" fill="#d6232a"/>
<circle cx="330.8" cy="423.1" r="3.55" fill="#d6232a"/>
<circle cx="330.8" cy="426.0" r="3.55" fill="#d6232a"/>
<circle cx="330.8" cy="442.0" r="3.55" fill="#d6232a"/>
<circle cx="330.8" cy="459.1" r="3.55" fill="#d6232a"/>
<circle cx="330.8" cy="462.4" r="3.55" fill="#d6232a"/>
<circle cx="330.8" cy="467.3" r="3.55" fill="#d6232a"/>
<circle cx="330.8" cy="472.2" r="3.55" fill="#d6232a"/>
<circle cx="330.8" cy="477.1" r="3.55" fill="#d6232a"/>
<path d="M534.2,364.2V300.4M530.4,364.2h7.6M530.4,300.4h7.6" stroke="#f0834f" stroke-width="1.5" fill="none"/>
<path d="M473.9,367.5V293.5M470.1,367.5h7.6M470.1,293.5h7.6" stroke="#f0834f" stroke-width="1.5" fill="none"/>
<path d="M426.9,410.9V376.5M423.1,410.9h7.6M423.1,376.5h7.6" stroke="#f0834f" stroke-width="1.5" fill="none"/>
<path d="M386.5,429.0V419.9M382.7,429.0h7.6M382.7,419.9h7.6" stroke="#f0834f" stroke-width="1.5" fill="none"/>
<path d="M361.6,437.0V411.9M357.8,437.0h7.6M357.8,411.9h7.6" stroke="#f0834f" stroke-width="1.5" fill="none"/>
<path d="M346.0,451.0V425.4M342.2,451.0h7.6M342.2,425.4h7.6" stroke="#f0834f" stroke-width="1.5" fill="none"/>
<path d="M334.4,464.0V453.4M330.6,464.0h7.6M330.6,453.4h7.6" stroke="#f0834f" stroke-width="1.5" fill="none"/>
<path d="M332.1,464.4V459.5M328.3,464.4h7.6M328.3,459.5h7.6" stroke="#f0834f" stroke-width="1.5" fill="none"/>
<path d="M330.8,468.5V465.3M327.0,468.5h7.6M327.0,465.3h7.6" stroke="#f0834f" stroke-width="1.5" fill="none"/>
<path d="M330.8,473.9V470.6M327.0,473.9h7.6M327.0,470.6h7.6" stroke="#f0834f" stroke-width="1.5" fill="none"/>
<path d="M330.8,480.0V473.9M327.0,480.0h7.6M327.0,473.9h7.6" stroke="#f0834f" stroke-width="1.5" fill="none"/>
<circle cx="534.2" cy="339.7" r="3.55" fill="#f0834f"/>
<circle cx="473.9" cy="339.7" r="3.55" fill="#f0834f"/>
<circle cx="426.9" cy="397.0" r="3.55" fill="#f0834f"/>
<circle cx="386.5" cy="424.6" r="3.55" fill="#f0834f"/>
<circle cx="361.6" cy="424.6" r="3.55" fill="#f0834f"/>
<circle cx="346.0" cy="438.9" r="3.55" fill="#f0834f"/>
<circle cx="334.4" cy="457.5" r="3.55" fill="#f0834f"/>
<circle cx="332.1" cy="462.0" r="3.55" fill="#f0834f"/>
<circle cx="330.8" cy="466.5" r="3.55" fill="#f0834f"/>
<circle cx="330.8" cy="471.4" r="3.55" fill="#f0834f"/>
<circle cx="330.8" cy="476.3" r="3.55" fill="#f0834f"/>
<path d="M607.4,364.2V300.4M603.6,364.2h7.6M603.6,300.4h7.6" stroke="#6db630" stroke-width="1.5" fill="none"/>
<path d="M573.8,367.5V293.5M570.0,367.5h7.6M570.0,293.5h7.6" stroke="#6db630" stroke-width="1.5" fill="none"/>
<path d="M541.8,410.9V376.5M538.0,410.9h7.6M538.0,376.5h7.6" stroke="#6db630" stroke-width="1.5" fill="none"/>
<path d="M506.4,429.0V419.9M502.6,429.0h7.6M502.6,419.9h7.6" stroke="#6db630" stroke-width="1.5" fill="none"/>
<path d="M474.9,437.0V411.9M471.1,437.0h7.6M471.1,411.9h7.6" stroke="#6db630" stroke-width="1.5" fill="none"/>
<path d="M444.1,451.0V425.4M440.3,451.0h7.6M440.3,425.4h7.6" stroke="#6db630" stroke-width="1.5" fill="none"/>
<path d="M400.4,464.0V453.4M396.6,464.0h7.6M396.6,453.4h7.6" stroke="#6db630" stroke-width="1.5" fill="none"/>
<path d="M367.6,464.4V459.5M363.8,464.4h7.6M363.8,459.5h7.6" stroke="#6db630" stroke-width="1.5" fill="none"/>
<path d="M350.3,468.5V465.3M346.5,468.5h7.6M346.5,465.3h7.6" stroke="#6db630" stroke-width="1.5" fill="none"/>
<path d="M332.8,473.9V470.6M329.0,473.9h7.6M329.0,470.6h7.6" stroke="#6db630" stroke-width="1.5" fill="none"/>
<path d="M331.1,480.0V473.9M327.3,480.0h7.6M327.3,473.9h7.6" stroke="#6db630" stroke-width="1.5" fill="none"/>
<circle cx="607.4" cy="339.7" r="3.55" fill="#6db630"/>
<circle cx="573.8" cy="339.7" r="3.55" fill="#6db630"/>
<circle cx="541.8" cy="397.8" r="3.55" fill="#6db630"/>
<circle cx="506.4" cy="424.4" r="3.55" fill="#6db630"/>
<circle cx="474.9" cy="424.8" r="3.55" fill="#6db630"/>
<circle cx="444.1" cy="439.3" r="3.55" fill="#6db630"/>
<circle cx="400.4" cy="458.3" r="3.55" fill="#6db630"/>
<circle cx="367.6" cy="462.0" r="3.55" fill="#6db630"/>
<circle cx="350.3" cy="466.9" r="3.55" fill="#6db630"/>
<circle cx="332.8" cy="471.8" r="3.55" fill="#6db630"/>
<circle cx="331.1" cy="477.5" r="3.55" fill="#6db630"/>
</g>
</svg>
</body></html>
